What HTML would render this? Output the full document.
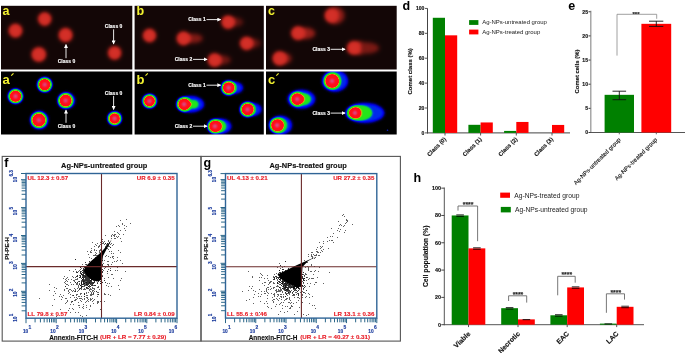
<!DOCTYPE html>
<html><head><meta charset="utf-8"><style>
html,body{margin:0;padding:0;background:#fff;}
#fig{position:relative;width:685px;height:353px;overflow:hidden;background:#fff;}
svg{position:absolute;left:0;top:0;will-change:transform;}
text{font-family:"Liberation Sans",sans-serif;}
</style></head><body><div id="fig">
<svg width="685" height="353" viewBox="0 0 685 353" font-family="Liberation Sans">
<defs>
<filter id="bl2" x="-50%" y="-50%" width="200%" height="200%"><feGaussianBlur stdDeviation="1.6"/></filter>
<filter id="bl1" x="-50%" y="-50%" width="200%" height="200%"><feGaussianBlur stdDeviation="0.7"/></filter>
<filter id="bl3" x="-50%" y="-50%" width="200%" height="200%"><feGaussianBlur stdDeviation="2.6"/></filter>
<filter id="bl05" x="-50%" y="-50%" width="200%" height="200%"><feGaussianBlur stdDeviation="0.45"/></filter>
<radialGradient id="rc"><stop offset="0" stop-color="#e02a22"/><stop offset="0.45" stop-color="#d82620"/><stop offset="0.72" stop-color="#b01c18" stop-opacity="0.8"/><stop offset="1" stop-color="#401010" stop-opacity="0"/></radialGradient>
<radialGradient id="hm"><stop offset="0" stop-color="#c070a0"/><stop offset="0.2" stop-color="#d84a80"/><stop offset="0.36" stop-color="#ff1a1a"/><stop offset="0.6" stop-color="#ff1010"/><stop offset="0.68" stop-color="#f0a010"/><stop offset="0.74" stop-color="#40e030"/><stop offset="0.82" stop-color="#20d020"/><stop offset="0.88" stop-color="#1040ff"/><stop offset="0.95" stop-color="#0010e0" stop-opacity="0.85"/><stop offset="1" stop-color="#000060" stop-opacity="0"/></radialGradient>
<radialGradient id="rt"><stop offset="0" stop-color="#c02822" stop-opacity="0.9"/><stop offset="0.5" stop-color="#a82420" stop-opacity="0.6"/><stop offset="1" stop-color="#501010" stop-opacity="0"/></radialGradient>
<radialGradient id="btg"><stop offset="0" stop-color="#1a30ff"/><stop offset="0.6" stop-color="#0a1ae8"/><stop offset="0.85" stop-color="#0510b0" stop-opacity="0.7"/><stop offset="1" stop-color="#000080" stop-opacity="0"/></radialGradient>
<radialGradient id="gtg"><stop offset="0" stop-color="#30e030"/><stop offset="0.7" stop-color="#28d828"/><stop offset="1" stop-color="#20c040" stop-opacity="0.2"/></radialGradient>
<radialGradient id="pk"><stop offset="0" stop-color="#d07090"/><stop offset="0.6" stop-color="#e04050" stop-opacity="0.6"/><stop offset="1" stop-color="#ff1010" stop-opacity="0"/></radialGradient>
<marker id="ah" viewBox="0 0 6 6" refX="5" refY="3" markerWidth="4.8" markerHeight="4.4" orient="auto"><path d="M0,0 L6,3 L0,6 z" fill="#fff"/></marker>
<filter id="heat" x="0" y="0" width="1" height="1" filterUnits="objectBoundingBox" color-interpolation-filters="sRGB"><feGaussianBlur in="SourceGraphic" stdDeviation="1.5" result="b"/><feFlood flood-color="#000" result="k"/><feComposite in="b" in2="k" operator="over" result="c"/><feComponentTransfer in="c"><feFuncR type="table" tableValues="0.00 0.00 0.00 0.00 0.00 0.02 0.08 0.12 0.14 0.15 0.50 0.95 1.00 1.00 1.00 1.00 1.00 1.00 0.95 0.85 0.78"/><feFuncG type="table" tableValues="0.00 0.00 0.00 0.03 0.25 0.65 0.85 0.90 0.90 0.90 0.85 0.55 0.12 0.06 0.06 0.06 0.06 0.07 0.15 0.30 0.40"/><feFuncB type="table" tableValues="0.00 0.30 0.72 0.95 0.90 0.50 0.20 0.12 0.10 0.10 0.06 0.05 0.07 0.10 0.10 0.10 0.10 0.12 0.30 0.50 0.62"/></feComponentTransfer></filter>
<filter id="redmap" x="0" y="0" width="1" height="1" filterUnits="objectBoundingBox" color-interpolation-filters="sRGB"><feGaussianBlur in="SourceGraphic" stdDeviation="2.2" result="b"/><feFlood flood-color="#000" result="k"/><feComposite in="b" in2="k" operator="over" result="c"/><feComponentTransfer in="c"><feFuncR type="table" tableValues="0.075 0.160 0.260 0.370 0.480 0.580 0.670 0.740 0.790 0.820 0.830"/><feFuncG type="table" tableValues="0.027 0.040 0.060 0.080 0.100 0.120 0.140 0.160 0.170 0.180 0.190"/><feFuncB type="table" tableValues="0.027 0.035 0.050 0.065 0.080 0.100 0.120 0.130 0.140 0.150 0.160"/></feComponentTransfer></filter>
</defs>
<rect x="1.00" y="5.80" width="131.30" height="63.70" fill="#140707"/>
<rect x="1.00" y="71.50" width="131.30" height="63.00" fill="#000"/>
<rect x="134.60" y="5.80" width="129.30" height="63.70" fill="#140707"/>
<rect x="134.60" y="71.50" width="129.30" height="63.00" fill="#000"/>
<rect x="266.00" y="5.80" width="130.70" height="63.70" fill="#140707"/>
<rect x="266.00" y="71.50" width="130.70" height="63.00" fill="#000"/>
<g filter="url(#redmap)">
<rect x="1.00" y="5.80" width="131.30" height="63.70" fill="#000"/>
<circle cx="44.70" cy="19.00" r="6.40" fill="#fff"/>
<circle cx="15.50" cy="30.60" r="6.60" fill="#fff"/>
<circle cx="65.60" cy="35.00" r="6.70" fill="#fff"/>
<circle cx="38.80" cy="54.50" r="7.00" fill="#fff"/>
<circle cx="114.60" cy="52.90" r="6.40" fill="#fff"/>
</g>
<g filter="url(#redmap)">
<rect x="134.60" y="5.80" width="129.30" height="63.70" fill="#000"/>
<ellipse cx="234.60" cy="22.10" rx="9.00" ry="5.00" fill="rgb(76,76,76)"/>
<ellipse cx="193.00" cy="38.40" rx="10.00" ry="5.00" fill="rgb(107,107,107)"/>
<ellipse cx="253.10" cy="43.30" rx="8.00" ry="5.00" fill="rgb(76,76,76)"/>
<ellipse cx="222.10" cy="60.00" rx="9.00" ry="5.00" fill="rgb(89,89,89)"/>
<circle cx="228.10" cy="22.10" r="6.40" fill="#fff"/>
<circle cx="149.50" cy="35.50" r="6.40" fill="#fff"/>
<circle cx="183.50" cy="38.40" r="6.60" fill="#fff"/>
<circle cx="246.60" cy="43.30" r="6.40" fill="#fff"/>
<circle cx="214.60" cy="60.00" r="6.60" fill="#fff"/>
</g>
<g filter="url(#redmap)">
<rect x="266.00" y="5.80" width="130.70" height="63.70" fill="#000"/>
<ellipse cx="335.00" cy="15.50" rx="10.00" ry="9.00" fill="rgb(115,115,115)"/>
<ellipse cx="305.50" cy="33.20" rx="10.00" ry="6.00" fill="rgb(128,128,128)"/>
<ellipse cx="359.30" cy="47.90" rx="9.00" ry="6.50" fill="rgb(217,217,217)"/>
<ellipse cx="366.30" cy="47.90" rx="13.00" ry="6.00" fill="rgb(102,102,102)"/>
<ellipse cx="284.10" cy="58.40" rx="8.00" ry="6.00" fill="rgb(102,102,102)"/>
<circle cx="331.50" cy="15.50" r="6.60" fill="#fff"/>
<circle cx="298.00" cy="33.20" r="6.60" fill="#fff"/>
<circle cx="353.80" cy="47.90" r="6.60" fill="#fff"/>
<circle cx="279.60" cy="58.40" r="6.80" fill="#fff"/>
</g>
<g filter="url(#heat)">
<rect x="1.00" y="71.50" width="131.30" height="63.00" fill="#000"/>
<ellipse cx="66.40" cy="100.60" rx="8.60" ry="8.00" fill="rgb(46,46,46)"/>
<ellipse cx="39.30" cy="120.10" rx="9.00" ry="9.00" fill="rgb(46,46,46)"/>
<circle cx="44.70" cy="84.60" r="6.40" fill="rgb(212,212,212)"/>
<circle cx="44.70" cy="84.60" r="2.2" fill="#fff"/>
<circle cx="15.50" cy="96.20" r="6.40" fill="rgb(212,212,212)"/>
<circle cx="15.50" cy="96.20" r="2.2" fill="#fff"/>
<circle cx="65.60" cy="100.60" r="6.50" fill="rgb(212,212,212)"/>
<circle cx="65.60" cy="100.60" r="2.2" fill="#fff"/>
<circle cx="38.80" cy="120.10" r="7.00" fill="rgb(212,212,212)"/>
<circle cx="38.80" cy="120.10" r="2.2" fill="#fff"/>
<circle cx="114.60" cy="118.50" r="6.00" fill="rgb(212,212,212)"/>
<circle cx="114.60" cy="118.50" r="2.2" fill="#fff"/>
</g>
<g filter="url(#heat)">
<rect x="134.60" y="71.50" width="129.30" height="63.00" fill="#000"/>
<ellipse cx="234.10" cy="87.80" rx="9.00" ry="6.00" fill="rgb(46,46,46)"/>
<ellipse cx="190.60" cy="104.30" rx="13.50" ry="8.20" fill="rgb(46,46,46)"/>
<ellipse cx="252.50" cy="109.40" rx="9.00" ry="6.50" fill="rgb(46,46,46)"/>
<ellipse cx="220.90" cy="126.30" rx="10.50" ry="7.50" fill="rgb(46,46,46)"/>
<ellipse cx="193.10" cy="104.30" rx="4.50" ry="3.20" fill="rgb(112,112,112)"/>
<ellipse cx="217.40" cy="126.30" rx="8.00" ry="6.00" fill="rgb(112,112,112)"/>
<circle cx="228.60" cy="87.80" r="6.40" fill="rgb(212,212,212)"/>
<circle cx="228.60" cy="87.80" r="2.2" fill="#fff"/>
<circle cx="149.50" cy="101.10" r="6.20" fill="rgb(212,212,212)"/>
<circle cx="149.50" cy="101.10" r="2.2" fill="#fff"/>
<circle cx="184.10" cy="104.30" r="6.40" fill="rgb(212,212,212)"/>
<circle cx="184.10" cy="104.30" r="2.2" fill="#fff"/>
<circle cx="247.50" cy="109.40" r="6.60" fill="rgb(212,212,212)"/>
<circle cx="247.50" cy="109.40" r="2.2" fill="#fff"/>
<circle cx="214.90" cy="126.30" r="6.40" fill="rgb(212,212,212)"/>
<circle cx="214.90" cy="126.30" r="2.2" fill="#fff"/>
</g>
<g filter="url(#heat)">
<rect x="266.00" y="71.50" width="130.70" height="63.00" fill="#000"/>
<ellipse cx="335.00" cy="81.00" rx="13.00" ry="10.50" fill="rgb(46,46,46)"/>
<ellipse cx="301.40" cy="99.10" rx="13.80" ry="9.40" fill="rgb(46,46,46)"/>
<ellipse cx="364.90" cy="112.90" rx="19.40" ry="9.80" fill="rgb(46,46,46)"/>
<ellipse cx="280.60" cy="125.20" rx="11.30" ry="9.50" fill="rgb(46,46,46)"/>
<ellipse cx="332.50" cy="81.00" rx="7.80" ry="7.80" fill="rgb(112,112,112)"/>
<ellipse cx="302.70" cy="99.10" rx="7.50" ry="5.20" fill="rgb(112,112,112)"/>
<ellipse cx="359.40" cy="112.90" rx="12.00" ry="7.00" fill="rgb(112,112,112)"/>
<ellipse cx="278.50" cy="125.20" rx="7.80" ry="7.00" fill="rgb(112,112,112)"/>
<circle cx="332.00" cy="81.00" r="7.00" fill="rgb(212,212,212)"/>
<circle cx="332.00" cy="81.00" r="2.2" fill="#fff"/>
<circle cx="297.20" cy="99.10" r="6.30" fill="rgb(212,212,212)"/>
<circle cx="297.20" cy="99.10" r="2.2" fill="#fff"/>
<circle cx="354.90" cy="112.90" r="5.80" fill="rgb(212,212,212)"/>
<circle cx="354.90" cy="112.90" r="2.2" fill="#fff"/>
<circle cx="277.10" cy="125.20" r="6.30" fill="rgb(212,212,212)"/>
<circle cx="277.10" cy="125.20" r="2.2" fill="#fff"/>
</g>
<circle cx="387.5" cy="130.2" r="0.8" fill="#1020c0"/>
<rect x="132.30" y="0.00" width="2.30" height="140.00" fill="#fff"/>
<rect x="263.80" y="0.00" width="2.20" height="140.00" fill="#fff"/>
<rect x="0.00" y="69.50" width="400.00" height="2.00" fill="#fff"/>
<rect x="0.00" y="0.00" width="400.00" height="5.80" fill="#fff"/>
<rect x="0.00" y="134.50" width="400.00" height="6.00" fill="#fff"/>
<rect x="396.70" y="0.00" width="4.00" height="140.00" fill="#fff"/>
<text x="2.60" y="15.10" font-size="12.5" fill="#f2f230" font-weight="bold">a</text>
<text x="2.60" y="83.50" font-size="13" fill="#f2f230" font-weight="bold">a</text>
<line x1="11.20" y1="75.70" x2="13.50" y2="73.30" stroke="#f2f230" stroke-width="1.1"/>
<text x="136.50" y="15.10" font-size="12.5" fill="#f2f230" font-weight="bold">b</text>
<text x="136.50" y="83.50" font-size="13" fill="#f2f230" font-weight="bold">b</text>
<line x1="145.50" y1="75.70" x2="147.80" y2="73.30" stroke="#f2f230" stroke-width="1.1"/>
<text x="268.00" y="15.10" font-size="12.5" fill="#f2f230" font-weight="bold">c</text>
<text x="268.00" y="83.50" font-size="13" fill="#f2f230" font-weight="bold">c</text>
<line x1="276.30" y1="75.70" x2="278.60" y2="73.30" stroke="#f2f230" stroke-width="1.1"/>
<text x="66.50" y="63.10" font-size="5" fill="#fff" font-weight="bold" text-anchor="middle" stroke="#fff" stroke-width="0.14">Class 0</text>
<line x1="66.00" y1="58.20" x2="66.00" y2="44.60" stroke="#fff" stroke-width="0.9" marker-end="url(#ah)"/>
<text x="113.60" y="27.90" font-size="5" fill="#fff" font-weight="bold" text-anchor="middle" stroke="#fff" stroke-width="0.14">Class 0</text>
<line x1="113.60" y1="29.30" x2="113.60" y2="43.80" stroke="#fff" stroke-width="0.9" marker-end="url(#ah)"/>
<text x="205.80" y="21.40" font-size="5" fill="#fff" font-weight="bold" text-anchor="end" stroke="#fff" stroke-width="0.14">Class 1</text>
<line x1="206.50" y1="19.60" x2="220.60" y2="19.60" stroke="#fff" stroke-width="0.9" marker-end="url(#ah)"/>
<text x="192.20" y="61.20" font-size="5" fill="#fff" font-weight="bold" text-anchor="end" stroke="#fff" stroke-width="0.14">Class 2</text>
<line x1="193.00" y1="59.40" x2="207.00" y2="59.40" stroke="#fff" stroke-width="0.9" marker-end="url(#ah)"/>
<text x="330.00" y="51.10" font-size="5" fill="#fff" font-weight="bold" text-anchor="end" stroke="#fff" stroke-width="0.14">Class 3</text>
<line x1="330.60" y1="49.30" x2="345.00" y2="49.30" stroke="#fff" stroke-width="0.9" marker-end="url(#ah)"/>
<text x="66.50" y="127.50" font-size="5" fill="#fff" font-weight="bold" text-anchor="middle" stroke="#fff" stroke-width="0.14">Class 0</text>
<line x1="66.00" y1="122.80" x2="66.00" y2="110.20" stroke="#fff" stroke-width="0.9" marker-end="url(#ah)"/>
<text x="113.60" y="94.50" font-size="5" fill="#fff" font-weight="bold" text-anchor="middle" stroke="#fff" stroke-width="0.14">Class 0</text>
<line x1="113.60" y1="95.90" x2="113.60" y2="109.40" stroke="#fff" stroke-width="0.9" marker-end="url(#ah)"/>
<text x="205.80" y="87.00" font-size="5" fill="#fff" font-weight="bold" text-anchor="end" stroke="#fff" stroke-width="0.14">Class 1</text>
<line x1="206.50" y1="85.20" x2="220.60" y2="85.20" stroke="#fff" stroke-width="0.9" marker-end="url(#ah)"/>
<text x="192.20" y="128.00" font-size="5" fill="#fff" font-weight="bold" text-anchor="end" stroke="#fff" stroke-width="0.14">Class 2</text>
<line x1="193.00" y1="126.20" x2="207.00" y2="126.20" stroke="#fff" stroke-width="0.9" marker-end="url(#ah)"/>
<text x="330.00" y="114.90" font-size="5" fill="#fff" font-weight="bold" text-anchor="end" stroke="#fff" stroke-width="0.14">Class 3</text>
<line x1="330.60" y1="113.10" x2="345.00" y2="113.10" stroke="#fff" stroke-width="0.9" marker-end="url(#ah)"/>
<text x="402.50" y="10.30" font-size="12.5" fill="#000" font-weight="bold">d</text>
<line x1="427.50" y1="8.40" x2="427.50" y2="133.40" stroke="#444" stroke-width="1"/>
<line x1="427.00" y1="132.90" x2="570.00" y2="132.90" stroke="#444" stroke-width="1"/>
<line x1="425.00" y1="132.90" x2="427.50" y2="132.90" stroke="#444" stroke-width="0.9"/>
<text x="424.40" y="134.70" font-size="5.1" fill="#111" font-weight="bold" text-anchor="end" stroke="#111" stroke-width="0.14">0</text>
<line x1="425.00" y1="108.01" x2="427.50" y2="108.01" stroke="#444" stroke-width="0.9"/>
<text x="424.40" y="109.81" font-size="5.1" fill="#111" font-weight="bold" text-anchor="end" stroke="#111" stroke-width="0.14">20</text>
<line x1="425.00" y1="83.12" x2="427.50" y2="83.12" stroke="#444" stroke-width="0.9"/>
<text x="424.40" y="84.92" font-size="5.1" fill="#111" font-weight="bold" text-anchor="end" stroke="#111" stroke-width="0.14">40</text>
<line x1="425.00" y1="58.23" x2="427.50" y2="58.23" stroke="#444" stroke-width="0.9"/>
<text x="424.40" y="60.03" font-size="5.1" fill="#111" font-weight="bold" text-anchor="end" stroke="#111" stroke-width="0.14">60</text>
<line x1="425.00" y1="33.34" x2="427.50" y2="33.34" stroke="#444" stroke-width="0.9"/>
<text x="424.40" y="35.14" font-size="5.1" fill="#111" font-weight="bold" text-anchor="end" stroke="#111" stroke-width="0.14">80</text>
<line x1="425.00" y1="8.45" x2="427.50" y2="8.45" stroke="#444" stroke-width="0.9"/>
<text x="424.40" y="10.25" font-size="5.1" fill="#111" font-weight="bold" text-anchor="end" stroke="#111" stroke-width="0.14">100</text>
<rect x="432.80" y="17.78" width="12.20" height="115.12" fill="#008000"/>
<rect x="445.00" y="35.33" width="12.20" height="97.57" fill="#ff0000"/>
<line x1="445.00" y1="132.90" x2="445.00" y2="135.50" stroke="#444" stroke-width="0.9"/>
<rect x="468.40" y="124.81" width="12.20" height="8.09" fill="#008000"/>
<rect x="480.60" y="122.45" width="12.20" height="10.45" fill="#ff0000"/>
<line x1="480.60" y1="132.90" x2="480.60" y2="135.50" stroke="#444" stroke-width="0.9"/>
<rect x="504.10" y="130.91" width="12.20" height="1.99" fill="#008000"/>
<rect x="516.30" y="121.95" width="12.20" height="10.95" fill="#ff0000"/>
<line x1="516.30" y1="132.90" x2="516.30" y2="135.50" stroke="#444" stroke-width="0.9"/>
<rect x="552.00" y="124.94" width="12.20" height="7.96" fill="#ff0000"/>
<line x1="552.00" y1="132.90" x2="552.00" y2="135.50" stroke="#444" stroke-width="0.9"/>
<text x="446.50" y="139.60" font-size="5.8" fill="#111" font-weight="bold" text-anchor="end" transform="rotate(-45 446.50 139.60)" stroke="#111" stroke-width="0.14">Class (0)</text>
<text x="482.10" y="139.60" font-size="5.8" fill="#111" font-weight="bold" text-anchor="end" transform="rotate(-45 482.10 139.60)" stroke="#111" stroke-width="0.14">Class (1)</text>
<text x="517.80" y="139.60" font-size="5.8" fill="#111" font-weight="bold" text-anchor="end" transform="rotate(-45 517.80 139.60)" stroke="#111" stroke-width="0.14">Class (2)</text>
<text x="553.50" y="139.60" font-size="5.8" fill="#111" font-weight="bold" text-anchor="end" transform="rotate(-45 553.50 139.60)" stroke="#111" stroke-width="0.14">Class (3)</text>
<text x="412.40" y="71.30" font-size="6.0" fill="#111" font-weight="bold" text-anchor="middle" transform="rotate(-90 412.40 71.30)" stroke="#111" stroke-width="0.14">Comet class (%)</text>
<rect x="469.10" y="20.10" width="9.30" height="4.80" fill="#008000"/>
<rect x="469.10" y="29.60" width="9.30" height="4.80" fill="#ff0000"/>
<text x="482.20" y="24.40" font-size="5.98" fill="#222">Ag-NPs-untreated group</text>
<text x="482.20" y="33.90" font-size="5.98" fill="#222">Ag-NPs-treated group</text>
<text x="568.30" y="10.00" font-size="12.5" fill="#000" font-weight="bold">e</text>
<line x1="590.80" y1="10.80" x2="590.80" y2="132.50" stroke="#999" stroke-width="1.3"/>
<line x1="590.20" y1="132.50" x2="685.50" y2="132.50" stroke="#555" stroke-width="1"/>
<line x1="588.50" y1="132.50" x2="590.50" y2="132.50" stroke="#222" stroke-width="0.9"/>
<text x="588.00" y="134.30" font-size="5.1" fill="#111" font-weight="bold" text-anchor="end" stroke="#111" stroke-width="0.14">0</text>
<line x1="588.50" y1="108.35" x2="590.50" y2="108.35" stroke="#222" stroke-width="0.9"/>
<text x="588.00" y="110.15" font-size="5.1" fill="#111" font-weight="bold" text-anchor="end" stroke="#111" stroke-width="0.14">5</text>
<line x1="588.50" y1="84.20" x2="590.50" y2="84.20" stroke="#222" stroke-width="0.9"/>
<text x="588.00" y="86.00" font-size="5.1" fill="#111" font-weight="bold" text-anchor="end" stroke="#111" stroke-width="0.14">10</text>
<line x1="588.50" y1="60.05" x2="590.50" y2="60.05" stroke="#222" stroke-width="0.9"/>
<text x="588.00" y="61.85" font-size="5.1" fill="#111" font-weight="bold" text-anchor="end" stroke="#111" stroke-width="0.14">15</text>
<line x1="588.50" y1="35.90" x2="590.50" y2="35.90" stroke="#222" stroke-width="0.9"/>
<text x="588.00" y="37.70" font-size="5.1" fill="#111" font-weight="bold" text-anchor="end" stroke="#111" stroke-width="0.14">20</text>
<line x1="588.50" y1="11.75" x2="590.50" y2="11.75" stroke="#222" stroke-width="0.9"/>
<text x="588.00" y="13.55" font-size="5.1" fill="#111" font-weight="bold" text-anchor="end" stroke="#111" stroke-width="0.14">25</text>
<rect x="604.60" y="94.83" width="29.40" height="37.67" fill="#008000"/>
<rect x="641.40" y="23.83" width="29.80" height="108.67" fill="#ff0000"/>
<line x1="619.30" y1="91.20" x2="619.30" y2="99.70" stroke="#111" stroke-width="0.9"/>
<line x1="612.50" y1="91.20" x2="626.10" y2="91.20" stroke="#111" stroke-width="0.9"/>
<line x1="612.50" y1="99.70" x2="626.10" y2="99.70" stroke="#111" stroke-width="0.9"/>
<line x1="656.30" y1="21.20" x2="656.30" y2="26.40" stroke="#111" stroke-width="0.9"/>
<line x1="649.00" y1="21.20" x2="663.30" y2="21.20" stroke="#111" stroke-width="0.9"/>
<line x1="649.00" y1="26.40" x2="663.30" y2="26.40" stroke="#111" stroke-width="0.9"/>
<polyline points="617,55.6 617,14.3 656.7,14.3 656.7,18.8" fill="none" stroke="#888" stroke-width="0.8"/>
<text x="636.00" y="15.60" font-size="5.9" fill="#222" font-weight="bold" text-anchor="middle" stroke="#222" stroke-width="0.14">***</text>
<line x1="619.30" y1="132.50" x2="619.30" y2="134.30" stroke="#555" stroke-width="0.9"/>
<line x1="656.30" y1="132.50" x2="656.30" y2="134.30" stroke="#555" stroke-width="0.9"/>
<text x="621.10" y="140.20" font-size="5.9" fill="#111" text-anchor="end" transform="rotate(-45 621.10 140.20)" stroke="#111" stroke-width="0.12">Ag-NPs-untreated group</text>
<text x="657.60" y="140.20" font-size="5.9" fill="#111" text-anchor="end" transform="rotate(-45 657.60 140.20)" stroke="#111" stroke-width="0.12">Ag-NPs-treated group</text>
<text x="579.30" y="71.50" font-size="5.9" fill="#111" font-weight="bold" text-anchor="middle" transform="rotate(-90 579.30 71.50)" stroke="#111" stroke-width="0.14">Comet cells (%)</text>
<text x="413.40" y="182.40" font-size="12.5" fill="#000" font-weight="bold">h</text>
<line x1="444.30" y1="187.50" x2="444.30" y2="325.20" stroke="#555" stroke-width="1"/>
<line x1="443.80" y1="324.70" x2="644.00" y2="324.70" stroke="#555" stroke-width="1"/>
<line x1="441.30" y1="324.70" x2="444.30" y2="324.70" stroke="#333" stroke-width="0.9"/>
<text x="440.90" y="326.60" font-size="5.4" fill="#111" font-weight="bold" text-anchor="end" stroke="#111" stroke-width="0.14">0</text>
<line x1="441.30" y1="297.39" x2="444.30" y2="297.39" stroke="#333" stroke-width="0.9"/>
<text x="440.90" y="299.29" font-size="5.4" fill="#111" font-weight="bold" text-anchor="end" stroke="#111" stroke-width="0.14">20</text>
<line x1="441.30" y1="270.08" x2="444.30" y2="270.08" stroke="#333" stroke-width="0.9"/>
<text x="440.90" y="271.98" font-size="5.4" fill="#111" font-weight="bold" text-anchor="end" stroke="#111" stroke-width="0.14">40</text>
<line x1="441.30" y1="242.77" x2="444.30" y2="242.77" stroke="#333" stroke-width="0.9"/>
<text x="440.90" y="244.67" font-size="5.4" fill="#111" font-weight="bold" text-anchor="end" stroke="#111" stroke-width="0.14">60</text>
<line x1="441.30" y1="215.46" x2="444.30" y2="215.46" stroke="#333" stroke-width="0.9"/>
<text x="440.90" y="217.36" font-size="5.4" fill="#111" font-weight="bold" text-anchor="end" stroke="#111" stroke-width="0.14">80</text>
<line x1="441.30" y1="188.15" x2="444.30" y2="188.15" stroke="#333" stroke-width="0.9"/>
<text x="440.90" y="190.05" font-size="5.4" fill="#111" font-weight="bold" text-anchor="end" stroke="#111" stroke-width="0.14">100</text>
<rect x="451.70" y="215.46" width="16.80" height="109.24" fill="#008000"/>
<rect x="468.50" y="248.37" width="16.80" height="76.33" fill="#ff0000"/>
<line x1="468.50" y1="324.70" x2="468.50" y2="327.10" stroke="#444" stroke-width="0.9"/>
<line x1="456.30" y1="214.86" x2="463.90" y2="214.86" stroke="#000" stroke-width="0.8"/>
<line x1="456.30" y1="216.36" x2="463.90" y2="216.36" stroke="#000" stroke-width="0.8"/>
<line x1="473.10" y1="247.77" x2="480.70" y2="247.77" stroke="#000" stroke-width="0.8"/>
<line x1="473.10" y1="249.27" x2="480.70" y2="249.27" stroke="#000" stroke-width="0.8"/>
<rect x="501.20" y="308.18" width="16.80" height="16.52" fill="#008000"/>
<rect x="518.00" y="319.37" width="16.80" height="5.33" fill="#ff0000"/>
<line x1="518.00" y1="324.70" x2="518.00" y2="327.10" stroke="#444" stroke-width="0.9"/>
<line x1="505.80" y1="307.58" x2="513.40" y2="307.58" stroke="#000" stroke-width="0.8"/>
<line x1="505.80" y1="309.08" x2="513.40" y2="309.08" stroke="#000" stroke-width="0.8"/>
<line x1="522.60" y1="319.67" x2="530.20" y2="319.67" stroke="#000" stroke-width="0.9"/>
<rect x="550.40" y="315.28" width="16.80" height="9.42" fill="#008000"/>
<rect x="567.20" y="287.42" width="16.80" height="37.28" fill="#ff0000"/>
<line x1="567.20" y1="324.70" x2="567.20" y2="327.10" stroke="#444" stroke-width="0.9"/>
<line x1="555.00" y1="314.68" x2="562.60" y2="314.68" stroke="#000" stroke-width="0.8"/>
<line x1="555.00" y1="316.18" x2="562.60" y2="316.18" stroke="#000" stroke-width="0.8"/>
<line x1="571.80" y1="286.82" x2="579.40" y2="286.82" stroke="#000" stroke-width="0.8"/>
<line x1="571.80" y1="288.32" x2="579.40" y2="288.32" stroke="#000" stroke-width="0.8"/>
<rect x="599.90" y="323.61" width="16.80" height="1.09" fill="#008000"/>
<rect x="616.70" y="306.81" width="16.80" height="17.89" fill="#ff0000"/>
<line x1="616.70" y1="324.70" x2="616.70" y2="327.10" stroke="#444" stroke-width="0.9"/>
<line x1="604.50" y1="323.91" x2="612.10" y2="323.91" stroke="#000" stroke-width="0.9"/>
<line x1="621.30" y1="306.21" x2="628.90" y2="306.21" stroke="#000" stroke-width="0.8"/>
<line x1="621.30" y1="307.71" x2="628.90" y2="307.71" stroke="#000" stroke-width="0.8"/>
<polyline points="458.0,210.6 458.0,206.0 477.6,206.0 477.6,241.2" fill="none" stroke="#606060" stroke-width="0.85"/>
<text x="468.10" y="207.00" font-size="6.8" fill="#222" font-weight="bold" text-anchor="middle" stroke="#222" stroke-width="0.14">****</text>
<polyline points="508.6,301.0 508.6,295.8 526.7,295.8 526.7,302.6" fill="none" stroke="#606060" stroke-width="0.85"/>
<text x="517.95" y="296.80" font-size="6.8" fill="#222" font-weight="bold" text-anchor="middle" stroke="#222" stroke-width="0.14">****</text>
<polyline points="557.7,295.3 557.7,276.3 575.2,276.3 575.2,282.7" fill="none" stroke="#606060" stroke-width="0.85"/>
<text x="566.75" y="277.30" font-size="6.8" fill="#222" font-weight="bold" text-anchor="middle" stroke="#222" stroke-width="0.14">****</text>
<polyline points="606.4,312.8 606.4,293.8 624.5,293.8 624.5,299.6" fill="none" stroke="#606060" stroke-width="0.85"/>
<text x="615.75" y="294.80" font-size="6.8" fill="#222" font-weight="bold" text-anchor="middle" stroke="#222" stroke-width="0.14">****</text>
<text x="470.90" y="334.20" font-size="6.9" fill="#111" font-weight="bold" text-anchor="end" transform="rotate(-45 470.90 334.20)" stroke="#111" stroke-width="0.14">Viable</text>
<text x="520.40" y="334.20" font-size="6.9" fill="#111" font-weight="bold" text-anchor="end" transform="rotate(-45 520.40 334.20)" stroke="#111" stroke-width="0.14">Necrotic</text>
<text x="569.60" y="334.20" font-size="6.9" fill="#111" font-weight="bold" text-anchor="end" transform="rotate(-45 569.60 334.20)" stroke="#111" stroke-width="0.14">EAC</text>
<text x="619.10" y="334.20" font-size="6.9" fill="#111" font-weight="bold" text-anchor="end" transform="rotate(-45 619.10 334.20)" stroke="#111" stroke-width="0.14">LAC</text>
<text x="428.00" y="256.30" font-size="6.8" fill="#111" font-weight="bold" text-anchor="middle" transform="rotate(-90 428.00 256.30)" stroke="#111" stroke-width="0.14">Cell population (%)</text>
<rect x="500.20" y="192.60" width="9.80" height="5.20" fill="#ff0000"/>
<rect x="500.80" y="206.90" width="10.00" height="5.50" fill="#008000"/>
<text x="514.30" y="197.50" font-size="6.7" fill="#222">Ag-NPs-treated group</text>
<text x="515.10" y="212.10" font-size="6.7" fill="#222">Ag-NPs-untreated group</text>
<rect x="2.2" y="156.4" width="198.8" height="184.7" fill="none" stroke="#555" stroke-width="1.1"/>
<rect x="201.0" y="156.4" width="199.4" height="184.7" fill="none" stroke="#555" stroke-width="1.1"/>
<clipPath id="cp11"><rect x="26.0" y="173.5" width="151.0" height="144.7"/></clipPath>
<g clip-path="url(#cp11)">
<path d="M95 275h1v1h-1zM87 279h1v1h-1zM98 270h1v1h-1zM92 272h1v1h-1zM90 273h1v1h-1zM91 282h1v1h-1zM89 277h1v1h-1zM94 274h1v1h-1zM95 270h1v1h-1zM95 278h1v1h-1zM88 281h1v1h-1zM94 277h1v1h-1zM86 275h1v1h-1zM87 275h1v1h-1zM87 275h1v1h-1zM91 280h1v1h-1zM95 270h1v1h-1zM85 270h1v1h-1zM86 283h1v1h-1zM96 272h1v1h-1zM87 276h1v1h-1zM97 271h1v1h-1zM91 279h1v1h-1zM91 270h1v1h-1zM97 267h1v1h-1zM85 277h1v1h-1zM87 274h1v1h-1zM102 269h1v1h-1zM87 280h1v1h-1zM102 272h1v1h-1zM91 275h1v1h-1zM83 273h1v1h-1zM90 276h1v1h-1zM94 276h1v1h-1zM83 279h1v1h-1zM97 271h1v1h-1zM88 276h1v1h-1zM96 276h1v1h-1zM88 268h1v1h-1zM99 277h1v1h-1zM86 277h1v1h-1zM94 274h1v1h-1zM92 273h1v1h-1zM91 282h1v1h-1zM92 272h1v1h-1zM99 265h1v1h-1zM88 271h1v1h-1zM83 269h1v1h-1zM88 277h1v1h-1zM100 269h1v1h-1zM93 279h1v1h-1zM93 282h1v1h-1zM89 277h1v1h-1zM89 268h1v1h-1zM91 266h1v1h-1zM84 275h1v1h-1zM94 274h1v1h-1zM85 267h1v1h-1zM87 281h1v1h-1zM92 271h1v1h-1zM85 267h1v1h-1zM96 271h1v1h-1zM96 263h1v1h-1zM94 282h1v1h-1zM90 272h1v1h-1zM90 276h1v1h-1zM90 283h1v1h-1zM99 273h1v1h-1zM95 270h1v1h-1zM87 269h1v1h-1zM92 276h1v1h-1zM87 271h1v1h-1zM87 284h1v1h-1zM87 288h1v1h-1zM86 275h1v1h-1zM91 271h1v1h-1zM88 279h1v1h-1zM89 277h1v1h-1zM91 277h1v1h-1zM90 283h1v1h-1zM90 281h1v1h-1zM86 273h1v1h-1zM89 277h1v1h-1zM91 276h1v1h-1zM92 272h1v1h-1zM88 279h1v1h-1zM88 280h1v1h-1zM89 277h1v1h-1zM87 274h1v1h-1zM93 270h1v1h-1zM94 276h1v1h-1zM96 264h1v1h-1zM94 267h1v1h-1zM89 276h1v1h-1zM86 277h1v1h-1zM95 274h1v1h-1zM90 270h1v1h-1zM90 274h1v1h-1zM97 272h1v1h-1zM79 281h1v1h-1zM99 278h1v1h-1zM93 272h1v1h-1zM86 273h1v1h-1zM91 272h1v1h-1zM89 271h1v1h-1zM85 274h1v1h-1zM87 278h1v1h-1zM86 269h1v1h-1zM79 277h1v1h-1zM90 277h1v1h-1zM86 264h1v1h-1zM90 280h1v1h-1zM100 274h1v1h-1zM86 284h1v1h-1zM80 285h1v1h-1zM92 276h1v1h-1zM87 273h1v1h-1zM95 271h1v1h-1zM93 277h1v1h-1zM87 283h1v1h-1zM90 281h1v1h-1zM90 270h1v1h-1zM94 275h1v1h-1zM95 278h1v1h-1zM85 269h1v1h-1zM98 266h1v1h-1zM94 278h1v1h-1zM99 269h1v1h-1zM88 277h1v1h-1zM93 274h1v1h-1zM94 268h1v1h-1zM83 283h1v1h-1zM88 271h1v1h-1zM96 279h1v1h-1zM89 273h1v1h-1zM92 275h1v1h-1zM86 279h1v1h-1zM91 266h1v1h-1zM90 286h1v1h-1zM99 278h1v1h-1zM92 273h1v1h-1zM95 273h1v1h-1zM101 272h1v1h-1zM92 282h1v1h-1zM97 271h1v1h-1zM81 274h1v1h-1zM87 280h1v1h-1zM98 272h1v1h-1zM91 280h1v1h-1zM96 291h1v1h-1zM100 281h1v1h-1zM95 278h1v1h-1zM86 276h1v1h-1zM91 269h1v1h-1zM95 285h1v1h-1zM85 279h1v1h-1zM92 284h1v1h-1zM93 273h1v1h-1zM94 269h1v1h-1zM86 278h1v1h-1zM95 276h1v1h-1zM94 279h1v1h-1zM95 272h1v1h-1zM85 276h1v1h-1zM89 267h1v1h-1zM87 274h1v1h-1zM86 273h1v1h-1zM91 274h1v1h-1zM86 279h1v1h-1zM84 275h1v1h-1zM104 280h1v1h-1zM93 276h1v1h-1zM96 271h1v1h-1zM88 274h1v1h-1zM87 274h1v1h-1zM91 280h1v1h-1zM94 268h1v1h-1zM92 273h1v1h-1zM93 279h1v1h-1zM94 285h1v1h-1zM92 272h1v1h-1zM83 276h1v1h-1zM83 278h1v1h-1zM89 270h1v1h-1zM83 278h1v1h-1zM90 278h1v1h-1zM84 285h1v1h-1zM92 273h1v1h-1zM88 269h1v1h-1zM86 267h1v1h-1zM90 271h1v1h-1zM93 273h1v1h-1zM90 277h1v1h-1zM82 275h1v1h-1zM89 270h1v1h-1zM83 276h1v1h-1zM92 278h1v1h-1zM96 267h1v1h-1zM79 277h1v1h-1zM94 277h1v1h-1zM94 274h1v1h-1zM83 281h1v1h-1zM86 284h1v1h-1zM101 270h1v1h-1zM83 272h1v1h-1zM90 274h1v1h-1zM89 278h1v1h-1zM86 271h1v1h-1zM89 270h1v1h-1zM84 276h1v1h-1zM95 265h1v1h-1zM89 279h1v1h-1zM89 271h1v1h-1zM83 282h1v1h-1zM91 275h1v1h-1zM80 272h1v1h-1zM87 271h1v1h-1zM87 274h1v1h-1zM84 270h1v1h-1zM96 272h1v1h-1zM88 276h1v1h-1zM97 266h1v1h-1zM86 280h1v1h-1zM88 273h1v1h-1zM86 273h1v1h-1zM93 276h1v1h-1zM93 277h1v1h-1zM94 276h1v1h-1zM97 271h1v1h-1zM94 275h1v1h-1zM81 282h1v1h-1zM98 276h1v1h-1zM101 279h1v1h-1zM89 274h1v1h-1zM93 274h1v1h-1zM79 284h1v1h-1zM82 270h1v1h-1zM89 261h1v1h-1zM96 279h1v1h-1zM95 270h1v1h-1zM90 275h1v1h-1zM90 266h1v1h-1zM97 275h1v1h-1zM90 270h1v1h-1zM97 277h1v1h-1zM83 273h1v1h-1zM97 278h1v1h-1zM93 279h1v1h-1zM94 273h1v1h-1zM93 269h1v1h-1zM92 273h1v1h-1zM85 282h1v1h-1zM89 272h1v1h-1zM91 275h1v1h-1zM85 273h1v1h-1zM99 273h1v1h-1zM86 280h1v1h-1zM91 276h1v1h-1zM94 273h1v1h-1zM88 268h1v1h-1zM84 283h1v1h-1zM88 273h1v1h-1zM91 268h1v1h-1zM86 268h1v1h-1zM88 282h1v1h-1zM90 283h1v1h-1zM85 269h1v1h-1zM94 276h1v1h-1zM85 277h1v1h-1zM92 272h1v1h-1zM87 267h1v1h-1zM80 277h1v1h-1zM94 276h1v1h-1zM88 273h1v1h-1zM96 270h1v1h-1zM95 279h1v1h-1zM94 270h1v1h-1zM91 271h1v1h-1zM91 279h1v1h-1zM96 275h1v1h-1zM98 268h1v1h-1zM96 275h1v1h-1zM90 270h1v1h-1zM80 271h1v1h-1zM83 266h1v1h-1zM97 267h1v1h-1zM88 280h1v1h-1zM87 280h1v1h-1zM83 272h1v1h-1zM95 268h1v1h-1zM94 277h1v1h-1zM86 280h1v1h-1zM89 276h1v1h-1zM89 270h1v1h-1zM80 272h1v1h-1zM83 278h1v1h-1zM102 265h1v1h-1zM94 273h1v1h-1zM90 278h1v1h-1zM95 276h1v1h-1zM86 284h1v1h-1zM84 281h1v1h-1zM86 282h1v1h-1zM93 274h1v1h-1zM92 274h1v1h-1zM94 279h1v1h-1zM86 274h1v1h-1zM83 269h1v1h-1zM92 285h1v1h-1zM84 273h1v1h-1zM99 278h1v1h-1zM91 269h1v1h-1zM91 266h1v1h-1zM91 276h1v1h-1zM81 284h1v1h-1zM91 270h1v1h-1zM83 268h1v1h-1zM88 276h1v1h-1zM88 276h1v1h-1zM88 278h1v1h-1zM99 275h1v1h-1zM86 275h1v1h-1zM80 272h1v1h-1zM95 269h1v1h-1zM96 272h1v1h-1zM82 279h1v1h-1zM85 271h1v1h-1zM91 268h1v1h-1zM90 277h1v1h-1zM94 270h1v1h-1zM87 271h1v1h-1zM94 268h1v1h-1zM99 275h1v1h-1zM91 269h1v1h-1zM82 280h1v1h-1zM93 266h1v1h-1zM99 263h1v1h-1zM87 276h1v1h-1zM89 278h1v1h-1zM95 278h1v1h-1zM89 272h1v1h-1zM92 279h1v1h-1zM88 269h1v1h-1zM86 274h1v1h-1zM88 267h1v1h-1zM93 283h1v1h-1zM96 270h1v1h-1zM91 281h1v1h-1zM86 275h1v1h-1zM90 267h1v1h-1zM84 277h1v1h-1zM97 277h1v1h-1zM98 274h1v1h-1zM96 267h1v1h-1zM87 271h1v1h-1zM95 277h1v1h-1zM83 275h1v1h-1zM89 281h1v1h-1zM86 266h1v1h-1zM82 277h1v1h-1zM87 273h1v1h-1zM93 270h1v1h-1zM102 282h1v1h-1zM91 271h1v1h-1zM88 280h1v1h-1zM90 278h1v1h-1zM91 270h1v1h-1zM79 289h1v1h-1zM86 275h1v1h-1zM87 276h1v1h-1zM90 267h1v1h-1zM91 269h1v1h-1zM92 272h1v1h-1zM98 268h1v1h-1zM91 277h1v1h-1zM91 275h1v1h-1zM80 288h1v1h-1zM94 280h1v1h-1zM98 268h1v1h-1zM82 266h1v1h-1zM96 279h1v1h-1zM89 274h1v1h-1zM87 272h1v1h-1zM83 271h1v1h-1zM91 279h1v1h-1zM94 274h1v1h-1zM87 281h1v1h-1zM91 272h1v1h-1zM88 276h1v1h-1zM91 270h1v1h-1zM89 276h1v1h-1zM87 275h1v1h-1zM93 265h1v1h-1zM97 263h1v1h-1zM86 279h1v1h-1zM83 275h1v1h-1zM92 268h1v1h-1zM94 274h1v1h-1zM99 273h1v1h-1zM91 267h1v1h-1zM88 264h1v1h-1zM87 274h1v1h-1zM90 270h1v1h-1zM84 276h1v1h-1zM92 278h1v1h-1zM94 281h1v1h-1zM90 278h1v1h-1zM94 279h1v1h-1zM91 279h1v1h-1zM87 275h1v1h-1zM94 274h1v1h-1zM98 266h1v1h-1zM90 277h1v1h-1zM83 268h1v1h-1zM98 274h1v1h-1zM91 272h1v1h-1zM94 273h1v1h-1zM91 276h1v1h-1zM94 277h1v1h-1zM90 280h1v1h-1zM86 278h1v1h-1zM85 277h1v1h-1zM91 278h1v1h-1zM87 270h1v1h-1zM86 276h1v1h-1zM92 279h1v1h-1zM92 274h1v1h-1zM90 277h1v1h-1zM86 269h1v1h-1zM91 271h1v1h-1zM92 273h1v1h-1zM95 269h1v1h-1zM82 284h1v1h-1zM92 273h1v1h-1zM84 272h1v1h-1zM99 273h1v1h-1zM95 272h1v1h-1zM93 293h1v1h-1zM94 265h1v1h-1zM84 269h1v1h-1zM94 275h1v1h-1zM92 269h1v1h-1zM94 268h1v1h-1zM91 270h1v1h-1zM91 269h1v1h-1zM101 266h1v1h-1zM94 269h1v1h-1zM89 276h1v1h-1zM91 267h1v1h-1zM77 272h1v1h-1zM93 266h1v1h-1zM85 275h1v1h-1zM85 279h1v1h-1zM91 277h1v1h-1zM97 274h1v1h-1zM94 270h1v1h-1zM88 281h1v1h-1zM96 273h1v1h-1zM90 275h1v1h-1zM94 280h1v1h-1zM89 285h1v1h-1zM88 265h1v1h-1zM88 281h1v1h-1zM88 270h1v1h-1zM87 276h1v1h-1zM84 271h1v1h-1zM90 278h1v1h-1zM102 264h1v1h-1zM88 272h1v1h-1zM87 272h1v1h-1zM92 278h1v1h-1zM91 272h1v1h-1zM85 279h1v1h-1zM84 275h1v1h-1zM92 275h1v1h-1zM98 265h1v1h-1zM92 267h1v1h-1zM95 271h1v1h-1zM95 271h1v1h-1zM90 275h1v1h-1zM97 268h1v1h-1zM91 282h1v1h-1zM91 280h1v1h-1zM87 283h1v1h-1zM94 280h1v1h-1zM80 275h1v1h-1zM81 287h1v1h-1zM93 273h1v1h-1zM85 276h1v1h-1zM89 285h1v1h-1zM89 275h1v1h-1zM77 276h1v1h-1zM88 277h1v1h-1zM95 278h1v1h-1zM93 277h1v1h-1zM82 272h1v1h-1zM92 282h1v1h-1zM90 268h1v1h-1zM93 275h1v1h-1zM95 276h1v1h-1zM92 277h1v1h-1zM91 267h1v1h-1zM90 282h1v1h-1zM89 272h1v1h-1zM90 275h1v1h-1zM90 276h1v1h-1zM90 273h1v1h-1zM91 265h1v1h-1zM86 278h1v1h-1zM88 272h1v1h-1zM86 279h1v1h-1zM97 274h1v1h-1zM96 269h1v1h-1zM86 270h1v1h-1zM87 280h1v1h-1zM93 278h1v1h-1zM89 277h1v1h-1zM88 275h1v1h-1zM86 279h1v1h-1zM94 276h1v1h-1zM85 268h1v1h-1zM90 284h1v1h-1zM94 275h1v1h-1zM87 276h1v1h-1zM96 264h1v1h-1zM102 266h1v1h-1zM94 282h1v1h-1zM85 280h1v1h-1zM89 283h1v1h-1zM88 286h1v1h-1zM84 273h1v1h-1zM86 279h1v1h-1zM87 281h1v1h-1zM89 277h1v1h-1zM89 282h1v1h-1zM92 275h1v1h-1zM90 270h1v1h-1zM81 283h1v1h-1zM94 268h1v1h-1zM91 276h1v1h-1zM88 274h1v1h-1zM84 276h1v1h-1zM95 271h1v1h-1zM90 266h1v1h-1zM89 275h1v1h-1zM89 276h1v1h-1zM95 270h1v1h-1zM95 266h1v1h-1zM87 275h1v1h-1zM87 272h1v1h-1zM92 276h1v1h-1zM91 277h1v1h-1zM89 281h1v1h-1zM86 287h1v1h-1zM83 280h1v1h-1zM94 280h1v1h-1zM88 271h1v1h-1zM93 275h1v1h-1zM91 273h1v1h-1zM91 273h1v1h-1zM93 270h1v1h-1zM99 271h1v1h-1zM87 284h1v1h-1zM87 278h1v1h-1zM85 279h1v1h-1zM84 275h1v1h-1zM91 273h1v1h-1zM90 274h1v1h-1zM88 270h1v1h-1zM100 283h1v1h-1zM95 276h1v1h-1zM86 269h1v1h-1zM94 273h1v1h-1zM88 276h1v1h-1zM94 276h1v1h-1zM88 277h1v1h-1zM87 274h1v1h-1zM87 282h1v1h-1zM77 275h1v1h-1zM95 273h1v1h-1zM88 279h1v1h-1zM96 272h1v1h-1zM76 272h1v1h-1zM84 281h1v1h-1zM87 275h1v1h-1zM92 275h1v1h-1zM81 286h1v1h-1zM91 272h1v1h-1zM97 278h1v1h-1zM96 266h1v1h-1zM90 277h1v1h-1zM89 275h1v1h-1zM85 280h1v1h-1zM85 262h1v1h-1zM100 277h1v1h-1zM81 278h1v1h-1zM89 270h1v1h-1zM92 284h1v1h-1zM105 282h1v1h-1zM81 273h1v1h-1zM91 279h1v1h-1zM95 274h1v1h-1zM91 271h1v1h-1zM94 268h1v1h-1zM87 281h1v1h-1zM91 269h1v1h-1zM97 273h1v1h-1zM94 271h1v1h-1zM91 274h1v1h-1zM93 277h1v1h-1zM90 271h1v1h-1zM90 272h1v1h-1zM98 280h1v1h-1zM89 276h1v1h-1zM88 279h1v1h-1zM91 285h1v1h-1zM82 279h1v1h-1zM96 274h1v1h-1zM93 274h1v1h-1zM82 279h1v1h-1zM89 277h1v1h-1zM96 275h1v1h-1zM89 275h1v1h-1zM83 277h1v1h-1zM83 270h1v1h-1zM91 283h1v1h-1zM88 272h1v1h-1zM94 281h1v1h-1zM84 280h1v1h-1zM89 277h1v1h-1zM98 281h1v1h-1zM90 270h1v1h-1zM88 270h1v1h-1zM85 273h1v1h-1zM87 277h1v1h-1zM95 276h1v1h-1zM93 265h1v1h-1zM90 280h1v1h-1zM97 283h1v1h-1zM97 279h1v1h-1zM102 260h1v1h-1zM84 277h1v1h-1zM86 268h1v1h-1zM87 275h1v1h-1zM93 274h1v1h-1zM90 272h1v1h-1zM93 276h1v1h-1zM89 272h1v1h-1zM88 278h1v1h-1zM91 279h1v1h-1zM94 281h1v1h-1zM86 271h1v1h-1zM95 273h1v1h-1zM91 283h1v1h-1zM86 275h1v1h-1zM93 278h1v1h-1zM93 276h1v1h-1zM92 267h1v1h-1zM87 274h1v1h-1zM95 277h1v1h-1zM94 276h1v1h-1zM88 275h1v1h-1zM93 276h1v1h-1zM85 278h1v1h-1zM77 282h1v1h-1zM83 284h1v1h-1zM91 277h1v1h-1zM92 274h1v1h-1zM94 279h1v1h-1zM90 273h1v1h-1zM90 270h1v1h-1zM81 281h1v1h-1zM88 283h1v1h-1zM87 273h1v1h-1zM91 279h1v1h-1zM99 270h1v1h-1zM91 274h1v1h-1zM90 275h1v1h-1zM90 273h1v1h-1zM93 269h1v1h-1zM92 269h1v1h-1zM94 280h1v1h-1zM99 271h1v1h-1zM91 281h1v1h-1zM92 282h1v1h-1zM88 272h1v1h-1zM95 269h1v1h-1zM85 272h1v1h-1zM91 276h1v1h-1zM86 268h1v1h-1zM99 267h1v1h-1zM97 268h1v1h-1zM88 276h1v1h-1zM96 272h1v1h-1zM91 274h1v1h-1zM93 271h1v1h-1zM92 270h1v1h-1zM87 272h1v1h-1zM88 282h1v1h-1zM101 260h1v1h-1zM80 267h1v1h-1zM102 276h1v1h-1zM90 270h1v1h-1zM90 276h1v1h-1zM90 270h1v1h-1zM95 270h1v1h-1zM100 273h1v1h-1zM91 283h1v1h-1zM95 269h1v1h-1zM93 270h1v1h-1zM85 274h1v1h-1zM98 281h1v1h-1zM90 269h1v1h-1zM92 270h1v1h-1zM88 284h1v1h-1zM97 261h1v1h-1zM87 273h1v1h-1zM91 280h1v1h-1zM91 275h1v1h-1zM87 279h1v1h-1zM90 274h1v1h-1zM88 270h1v1h-1zM94 276h1v1h-1zM86 271h1v1h-1zM94 277h1v1h-1zM87 281h1v1h-1zM93 272h1v1h-1zM84 267h1v1h-1zM95 273h1v1h-1zM98 272h1v1h-1zM88 271h1v1h-1zM96 266h1v1h-1zM83 274h1v1h-1zM102 271h1v1h-1zM90 272h1v1h-1zM82 274h1v1h-1zM88 278h1v1h-1zM93 277h1v1h-1zM89 280h1v1h-1zM86 273h1v1h-1zM85 273h1v1h-1zM107 271h1v1h-1zM92 273h1v1h-1zM88 268h1v1h-1zM95 261h1v1h-1zM98 273h1v1h-1zM95 275h1v1h-1zM89 275h1v1h-1zM88 267h1v1h-1zM110 270h1v1h-1zM82 272h1v1h-1zM89 270h1v1h-1zM94 271h1v1h-1zM76 276h1v1h-1zM85 272h1v1h-1zM88 275h1v1h-1zM80 276h1v1h-1zM93 266h1v1h-1zM85 276h1v1h-1zM93 282h1v1h-1zM88 276h1v1h-1zM90 268h1v1h-1zM87 280h1v1h-1zM88 278h1v1h-1zM92 283h1v1h-1zM95 273h1v1h-1zM98 275h1v1h-1zM96 269h1v1h-1zM86 268h1v1h-1zM84 266h1v1h-1zM88 272h1v1h-1zM93 270h1v1h-1zM90 269h1v1h-1zM86 274h1v1h-1zM87 285h1v1h-1zM93 283h1v1h-1zM92 275h1v1h-1zM86 282h1v1h-1zM84 275h1v1h-1zM90 271h1v1h-1zM101 272h1v1h-1zM86 271h1v1h-1zM88 288h1v1h-1zM91 275h1v1h-1zM88 277h1v1h-1zM94 278h1v1h-1zM90 273h1v1h-1zM94 265h1v1h-1zM88 275h1v1h-1zM80 273h1v1h-1zM85 278h1v1h-1zM95 278h1v1h-1zM91 268h1v1h-1zM94 277h1v1h-1zM81 281h1v1h-1zM83 283h1v1h-1zM87 274h1v1h-1zM94 276h1v1h-1zM90 273h1v1h-1zM91 283h1v1h-1z" fill="#000" fill-opacity="0.8"/>
<path d="M91 250h1v1h-1zM100 244h1v1h-1zM93 264h1v1h-1zM97 243h1v1h-1zM96 253h1v1h-1zM96 257h1v1h-1zM99 246h1v1h-1zM90 252h1v1h-1zM94 249h1v1h-1zM107 243h1v1h-1zM92 242h1v1h-1zM96 250h1v1h-1zM90 251h1v1h-1zM91 258h1v1h-1zM91 252h1v1h-1zM95 257h1v1h-1zM98 247h1v1h-1zM94 250h1v1h-1zM87 251h1v1h-1zM94 264h1v1h-1zM91 250h1v1h-1zM75 259h1v1h-1zM103 250h1v1h-1zM94 262h1v1h-1zM89 257h1v1h-1zM101 251h1v1h-1zM94 246h1v1h-1zM99 254h1v1h-1zM104 260h1v1h-1zM95 269h1v1h-1zM85 264h1v1h-1zM95 255h1v1h-1zM88 254h1v1h-1zM96 255h1v1h-1zM99 251h1v1h-1zM96 260h1v1h-1zM91 248h1v1h-1zM99 252h1v1h-1zM102 255h1v1h-1zM100 250h1v1h-1zM99 245h1v1h-1zM113 253h1v1h-1zM96 250h1v1h-1zM98 259h1v1h-1zM95 254h1v1h-1zM100 242h1v1h-1zM107 244h1v1h-1zM95 252h1v1h-1zM100 249h1v1h-1zM98 246h1v1h-1zM94 255h1v1h-1zM101 245h1v1h-1zM92 260h1v1h-1zM102 251h1v1h-1zM102 241h1v1h-1zM105 246h1v1h-1zM100 260h1v1h-1zM95 244h1v1h-1zM101 244h1v1h-1zM87 269h1v1h-1zM93 255h1v1h-1zM101 248h1v1h-1zM101 256h1v1h-1zM96 245h1v1h-1zM101 256h1v1h-1zM93 259h1v1h-1zM100 255h1v1h-1zM102 239h1v1h-1zM99 250h1v1h-1zM97 256h1v1h-1z" fill="#000" fill-opacity="0.62"/>
<path d="M117 270h1v1h-1zM104 241h1v1h-1zM110 247h1v1h-1zM125 271h1v1h-1zM108 277h1v1h-1zM109 251h1v1h-1zM112 262h1v1h-1zM116 261h1v1h-1zM121 278h1v1h-1zM109 251h1v1h-1zM107 273h1v1h-1zM111 251h1v1h-1zM108 294h1v1h-1zM122 263h1v1h-1zM120 252h1v1h-1zM108 269h1v1h-1zM111 264h1v1h-1zM118 285h1v1h-1zM106 285h1v1h-1zM112 256h1v1h-1zM106 255h1v1h-1zM105 267h1v1h-1zM104 268h1v1h-1zM111 286h1v1h-1zM107 261h1v1h-1zM102 275h1v1h-1zM108 256h1v1h-1zM108 265h1v1h-1zM117 267h1v1h-1zM112 274h1v1h-1zM103 270h1v1h-1zM102 243h1v1h-1zM112 257h1v1h-1zM89 274h1v1h-1zM108 264h1v1h-1zM114 261h1v1h-1zM107 264h1v1h-1zM115 234h1v1h-1zM105 256h1v1h-1zM113 258h1v1h-1zM120 260h1v1h-1zM117 260h1v1h-1zM110 257h1v1h-1zM117 257h1v1h-1zM118 250h1v1h-1zM99 261h1v1h-1zM107 266h1v1h-1zM110 295h1v1h-1zM96 267h1v1h-1zM111 253h1v1h-1zM103 263h1v1h-1zM101 273h1v1h-1zM105 243h1v1h-1zM97 255h1v1h-1zM108 261h1v1h-1zM120 280h1v1h-1zM109 283h1v1h-1zM115 270h1v1h-1zM113 256h1v1h-1zM119 289h1v1h-1z" fill="#000" fill-opacity="0.62"/>
<path d="M109 246h1v1h-1zM120 230h1v1h-1zM112 234h1v1h-1zM106 245h1v1h-1zM124 228h1v1h-1zM111 235h1v1h-1zM108 249h1v1h-1zM125 230h1v1h-1zM119 226h1v1h-1zM114 238h1v1h-1zM110 244h1v1h-1zM108 240h1v1h-1zM116 226h1v1h-1zM122 223h1v1h-1zM107 243h1v1h-1zM114 231h1v1h-1zM122 224h1v1h-1zM110 247h1v1h-1zM121 241h1v1h-1zM117 232h1v1h-1zM113 235h1v1h-1zM106 247h1v1h-1zM105 235h1v1h-1zM126 226h1v1h-1zM109 242h1v1h-1zM111 238h1v1h-1zM119 234h1v1h-1zM106 244h1v1h-1zM124 225h1v1h-1zM118 225h1v1h-1zM103 242h1v1h-1zM107 248h1v1h-1zM108 245h1v1h-1zM123 234h1v1h-1zM118 233h1v1h-1zM108 245h1v1h-1zM114 234h1v1h-1zM112 245h1v1h-1zM116 236h1v1h-1zM118 236h1v1h-1zM120 220h1v1h-1zM114 235h1v1h-1zM104 244h1v1h-1zM114 236h1v1h-1zM115 238h1v1h-1zM126 219h1v1h-1zM107 243h1v1h-1zM108 241h1v1h-1zM113 244h1v1h-1zM108 246h1v1h-1zM111 236h1v1h-1zM120 238h1v1h-1zM110 244h1v1h-1zM105 247h1v1h-1zM111 236h1v1h-1zM130 223h1v1h-1zM108 249h1v1h-1zM111 243h1v1h-1zM103 243h1v1h-1zM118 236h1v1h-1zM109 243h1v1h-1zM106 248h1v1h-1zM105 243h1v1h-1zM117 237h1v1h-1zM114 238h1v1h-1z" fill="#000" fill-opacity="0.62"/>
<path d="M93 280h1v1h-1zM92 301h1v1h-1zM80 294h1v1h-1zM87 268h1v1h-1zM86 307h1v1h-1zM85 283h1v1h-1zM82 316h1v1h-1zM79 296h1v1h-1zM59 296h1v1h-1zM91 284h1v1h-1zM79 270h1v1h-1zM84 279h1v1h-1zM67 284h1v1h-1zM73 277h1v1h-1zM64 289h1v1h-1zM97 282h1v1h-1zM75 269h1v1h-1zM66 288h1v1h-1zM92 288h1v1h-1zM86 292h1v1h-1zM92 294h1v1h-1zM56 288h1v1h-1zM67 300h1v1h-1zM90 288h1v1h-1zM89 290h1v1h-1zM81 274h1v1h-1zM86 285h1v1h-1zM84 279h1v1h-1zM101 295h1v1h-1zM82 281h1v1h-1zM85 302h1v1h-1zM74 280h1v1h-1zM78 302h1v1h-1zM84 294h1v1h-1zM111 274h1v1h-1zM89 290h1v1h-1zM75 289h1v1h-1zM90 280h1v1h-1zM84 299h1v1h-1zM70 282h1v1h-1zM77 298h1v1h-1zM81 296h1v1h-1zM75 291h1v1h-1zM80 285h1v1h-1zM78 287h1v1h-1zM84 299h1v1h-1zM84 299h1v1h-1zM82 307h1v1h-1zM98 287h1v1h-1zM92 287h1v1h-1zM84 296h1v1h-1zM81 283h1v1h-1zM77 298h1v1h-1zM91 277h1v1h-1zM75 300h1v1h-1zM70 289h1v1h-1zM85 289h1v1h-1zM74 288h1v1h-1zM75 259h1v1h-1zM66 298h1v1h-1zM99 270h1v1h-1zM93 288h1v1h-1zM97 287h1v1h-1zM81 268h1v1h-1zM93 303h1v1h-1zM79 275h1v1h-1zM83 275h1v1h-1zM97 292h1v1h-1zM73 271h1v1h-1zM91 295h1v1h-1zM78 296h1v1h-1zM80 294h1v1h-1zM91 299h1v1h-1zM86 301h1v1h-1zM81 287h1v1h-1zM104 301h1v1h-1zM73 284h1v1h-1zM97 301h1v1h-1zM72 301h1v1h-1zM68 279h1v1h-1zM66 298h1v1h-1zM73 280h1v1h-1zM90 289h1v1h-1zM90 276h1v1h-1zM81 282h1v1h-1zM68 285h1v1h-1zM72 276h1v1h-1zM65 281h1v1h-1zM53 295h1v1h-1zM79 288h1v1h-1zM87 298h1v1h-1zM65 283h1v1h-1zM74 288h1v1h-1zM54 287h1v1h-1zM76 299h1v1h-1zM76 279h1v1h-1zM87 297h1v1h-1zM85 267h1v1h-1zM86 295h1v1h-1zM88 286h1v1h-1zM81 283h1v1h-1zM89 290h1v1h-1zM98 301h1v1h-1zM86 272h1v1h-1zM80 267h1v1h-1zM77 294h1v1h-1zM91 272h1v1h-1zM79 307h1v1h-1zM76 283h1v1h-1zM92 279h1v1h-1zM78 271h1v1h-1zM81 285h1v1h-1zM85 276h1v1h-1zM91 293h1v1h-1zM90 294h1v1h-1zM68 291h1v1h-1zM82 277h1v1h-1zM87 275h1v1h-1zM84 293h1v1h-1zM91 279h1v1h-1zM93 290h1v1h-1zM84 284h1v1h-1zM72 295h1v1h-1zM87 298h1v1h-1zM78 286h1v1h-1zM86 293h1v1h-1zM72 295h1v1h-1zM97 296h1v1h-1zM83 308h1v1h-1zM79 283h1v1h-1zM79 298h1v1h-1zM71 284h1v1h-1zM92 291h1v1h-1zM81 280h1v1h-1zM93 274h1v1h-1zM71 302h1v1h-1zM77 288h1v1h-1zM73 295h1v1h-1zM97 302h1v1h-1zM78 281h1v1h-1zM75 279h1v1h-1zM88 292h1v1h-1zM64 318h1v1h-1zM75 282h1v1h-1zM78 305h1v1h-1zM88 301h1v1h-1zM65 298h1v1h-1zM63 278h1v1h-1zM98 292h1v1h-1zM100 309h1v1h-1zM82 286h1v1h-1zM68 310h1v1h-1zM85 302h1v1h-1zM92 290h1v1h-1zM70 297h1v1h-1zM65 286h1v1h-1zM108 286h1v1h-1zM86 297h1v1h-1zM96 272h1v1h-1zM63 295h1v1h-1zM68 293h1v1h-1zM78 266h1v1h-1zM79 298h1v1h-1zM76 284h1v1h-1zM75 312h1v1h-1zM82 264h1v1h-1zM101 279h1v1h-1zM89 289h1v1h-1zM86 287h1v1h-1zM89 289h1v1h-1zM105 294h1v1h-1zM71 301h1v1h-1zM101 288h1v1h-1zM76 279h1v1h-1zM84 283h1v1h-1zM92 278h1v1h-1zM88 272h1v1h-1zM74 281h1v1h-1zM94 289h1v1h-1zM86 315h1v1h-1zM101 281h1v1h-1zM89 309h1v1h-1zM101 294h1v1h-1zM97 294h1v1h-1zM84 298h1v1h-1zM104 266h1v1h-1zM94 288h1v1h-1zM90 299h1v1h-1zM80 315h1v1h-1zM91 289h1v1h-1zM87 295h1v1h-1zM98 294h1v1h-1zM90 295h1v1h-1zM80 293h1v1h-1zM77 283h1v1h-1zM100 301h1v1h-1zM87 300h1v1h-1zM83 286h1v1h-1zM83 281h1v1h-1zM90 298h1v1h-1zM82 279h1v1h-1zM62 297h1v1h-1zM73 290h1v1h-1zM90 272h1v1h-1zM97 303h1v1h-1zM99 289h1v1h-1zM66 302h1v1h-1zM82 276h1v1h-1zM81 288h1v1h-1zM76 271h1v1h-1zM110 268h1v1h-1zM84 288h1v1h-1zM82 299h1v1h-1zM78 290h1v1h-1zM74 297h1v1h-1zM74 291h1v1h-1zM86 284h1v1h-1zM101 299h1v1h-1zM93 285h1v1h-1zM66 280h1v1h-1zM93 271h1v1h-1zM86 282h1v1h-1zM81 289h1v1h-1zM77 279h1v1h-1zM94 276h1v1h-1zM86 288h1v1h-1zM81 287h1v1h-1zM68 291h1v1h-1zM81 285h1v1h-1zM66 278h1v1h-1zM73 309h1v1h-1zM89 274h1v1h-1zM113 278h1v1h-1zM77 291h1v1h-1zM77 278h1v1h-1zM69 270h1v1h-1zM101 292h1v1h-1zM84 296h1v1h-1zM68 293h1v1h-1zM104 278h1v1h-1zM84 289h1v1h-1zM90 291h1v1h-1zM91 294h1v1h-1zM83 278h1v1h-1zM75 299h1v1h-1zM81 301h1v1h-1zM100 283h1v1h-1zM86 281h1v1h-1zM85 285h1v1h-1zM104 294h1v1h-1zM93 300h1v1h-1zM86 282h1v1h-1zM90 306h1v1h-1zM77 284h1v1h-1zM84 282h1v1h-1zM81 282h1v1h-1zM91 275h1v1h-1zM85 284h1v1h-1zM89 286h1v1h-1zM70 294h1v1h-1z" fill="#000" fill-opacity="0.62"/>
<path d="M83 289h1v1h-1zM61 299h1v1h-1zM78 285h1v1h-1zM75 290h1v1h-1zM86 305h1v1h-1zM60 294h1v1h-1zM81 271h1v1h-1zM75 282h1v1h-1zM98 294h1v1h-1zM64 282h1v1h-1zM65 279h1v1h-1zM78 312h1v1h-1zM61 296h1v1h-1zM74 318h1v1h-1zM75 291h1v1h-1zM80 300h1v1h-1zM67 281h1v1h-1zM72 301h1v1h-1zM79 305h1v1h-1zM94 299h1v1h-1zM54 291h1v1h-1zM84 293h1v1h-1zM85 281h1v1h-1zM93 292h1v1h-1zM67 277h1v1h-1zM83 306h1v1h-1zM98 286h1v1h-1zM80 269h1v1h-1zM74 300h1v1h-1zM68 290h1v1h-1zM49 290h1v1h-1zM64 290h1v1h-1zM81 293h1v1h-1zM67 288h1v1h-1zM65 303h1v1h-1zM82 286h1v1h-1zM98 302h1v1h-1zM94 291h1v1h-1zM89 287h1v1h-1zM39 298h1v1h-1zM73 304h1v1h-1zM64 276h1v1h-1zM52 305h1v1h-1zM87 275h1v1h-1zM80 298h1v1h-1zM55 293h1v1h-1zM74 300h1v1h-1zM87 287h1v1h-1zM107 283h1v1h-1zM98 269h1v1h-1zM71 279h1v1h-1zM84 296h1v1h-1zM69 308h1v1h-1zM76 295h1v1h-1zM51 314h1v1h-1zM49 284h1v1h-1zM80 276h1v1h-1zM70 304h1v1h-1zM83 304h1v1h-1zM93 294h1v1h-1zM84 286h1v1h-1zM89 282h1v1h-1zM99 280h1v1h-1zM55 293h1v1h-1zM76 297h1v1h-1zM54 299h1v1h-1zM73 295h1v1h-1zM72 308h1v1h-1zM90 300h1v1h-1zM75 277h1v1h-1zM76 294h1v1h-1zM84 294h1v1h-1zM69 292h1v1h-1zM89 265h1v1h-1zM66 284h1v1h-1zM70 312h1v1h-1zM88 299h1v1h-1zM90 305h1v1h-1zM67 301h1v1h-1zM92 298h1v1h-1zM72 291h1v1h-1zM101 295h1v1h-1zM65 286h1v1h-1zM104 293h1v1h-1zM91 292h1v1h-1zM81 298h1v1h-1zM71 290h1v1h-1zM56 316h1v1h-1zM69 289h1v1h-1zM60 309h1v1h-1z" fill="#000" fill-opacity="0.62"/>
<polygon points="111.7,239.5 104,249 97,256 90,262 85,267 84,271 87,276 92,280 97,281.5 101,280 101.5,268 103,256" fill="#000" filter="url(#bl05)"/>
</g>
<line x1="101.50" y1="173.50" x2="101.50" y2="318.20" stroke="#6a2a2a" stroke-width="1.1"/>
<line x1="26.00" y1="266.60" x2="177.00" y2="266.60" stroke="#6a2a2a" stroke-width="1.1"/>
<path d="M26.00 318.20v5.0 M35.09 318.20v4.2 M40.41 318.20v4.2 M44.18 318.20v4.2 M47.11 318.20v4.2 M49.50 318.20v4.2 M51.52 318.20v4.2 M53.27 318.20v4.2 M54.82 318.20v4.2 M56.20 318.20v5.0 M65.29 318.20v4.2 M70.61 318.20v4.2 M74.38 318.20v4.2 M77.31 318.20v4.2 M79.70 318.20v4.2 M81.72 318.20v4.2 M83.47 318.20v4.2 M85.02 318.20v4.2 M86.40 318.20v5.0 M95.49 318.20v4.2 M100.81 318.20v4.2 M104.58 318.20v4.2 M107.51 318.20v4.2 M109.90 318.20v4.2 M111.92 318.20v4.2 M113.67 318.20v4.2 M115.22 318.20v4.2 M116.60 318.20v5.0 M125.69 318.20v4.2 M131.01 318.20v4.2 M134.78 318.20v4.2 M137.71 318.20v4.2 M140.10 318.20v4.2 M142.12 318.20v4.2 M143.87 318.20v4.2 M145.42 318.20v4.2 M146.80 318.20v5.0 M155.89 318.20v4.2 M161.21 318.20v4.2 M164.98 318.20v4.2 M167.91 318.20v4.2 M170.30 318.20v4.2 M172.32 318.20v4.2 M174.07 318.20v4.2 M175.62 318.20v4.2 M177.00 318.20v5.0 M26.00 310.80h-4.4 M26.00 305.89h-4.4 M26.00 302.40h-4.4 M26.00 299.70h-4.4 M26.00 297.49h-4.4 M26.00 295.62h-4.4 M26.00 294.00h-4.4 M26.00 292.58h-4.4 M26.00 291.30h-5.0 M26.00 282.90h-4.4 M26.00 277.99h-4.4 M26.00 274.50h-4.4 M26.00 271.80h-4.4 M26.00 269.59h-4.4 M26.00 267.72h-4.4 M26.00 266.10h-4.4 M26.00 264.68h-4.4 M26.00 263.40h-5.0 M26.00 255.00h-4.4 M26.00 250.09h-4.4 M26.00 246.60h-4.4 M26.00 243.90h-4.4 M26.00 241.69h-4.4 M26.00 239.82h-4.4 M26.00 238.20h-4.4 M26.00 236.78h-4.4 M26.00 235.50h-5.0 M26.00 227.10h-4.4 M26.00 222.19h-4.4 M26.00 218.70h-4.4 M26.00 216.00h-4.4 M26.00 213.79h-4.4 M26.00 211.92h-4.4 M26.00 210.30h-4.4 M26.00 208.88h-4.4 M26.00 207.60h-5.0 M26.00 199.20h-4.4 M26.00 194.29h-4.4 M26.00 190.80h-4.4 M26.00 188.10h-4.4 M26.00 185.89h-4.4 M26.00 184.02h-4.4 M26.00 182.40h-4.4 M26.00 180.98h-4.4 M26.00 179.70h-5.0 M26.00 173.50h-5" stroke="#2a6688" stroke-width="1" fill="none"/>
<rect x="26.0" y="173.5" width="151.0" height="144.7" fill="none" stroke="#2f6496" stroke-width="1.4"/>
<text x="28.30" y="332.90" font-size="4.8" fill="#1a3a9c" font-weight="bold" text-anchor="end" stroke="#1a3a9c" stroke-width="0.14">10</text>
<text x="28.60" y="329.00" font-size="4.9" fill="#1a3a9c" font-weight="bold" stroke="#1a3a9c" stroke-width="0.14">1</text>
<text x="55.60" y="332.90" font-size="4.8" fill="#1a3a9c" font-weight="bold" text-anchor="end" stroke="#1a3a9c" stroke-width="0.14">10</text>
<text x="55.90" y="329.00" font-size="4.9" fill="#1a3a9c" font-weight="bold" stroke="#1a3a9c" stroke-width="0.14">2</text>
<text x="84.20" y="332.90" font-size="4.8" fill="#1a3a9c" font-weight="bold" text-anchor="end" stroke="#1a3a9c" stroke-width="0.14">10</text>
<text x="84.50" y="329.00" font-size="4.9" fill="#1a3a9c" font-weight="bold" stroke="#1a3a9c" stroke-width="0.14">3</text>
<text x="116.50" y="332.90" font-size="4.8" fill="#1a3a9c" font-weight="bold" text-anchor="end" stroke="#1a3a9c" stroke-width="0.14">10</text>
<text x="116.80" y="329.00" font-size="4.9" fill="#1a3a9c" font-weight="bold" stroke="#1a3a9c" stroke-width="0.14">4</text>
<text x="143.60" y="332.90" font-size="4.8" fill="#1a3a9c" font-weight="bold" text-anchor="end" stroke="#1a3a9c" stroke-width="0.14">10</text>
<text x="143.90" y="329.00" font-size="4.9" fill="#1a3a9c" font-weight="bold" stroke="#1a3a9c" stroke-width="0.14">5</text>
<text x="174.20" y="332.90" font-size="4.8" fill="#1a3a9c" font-weight="bold" text-anchor="end" stroke="#1a3a9c" stroke-width="0.14">10</text>
<text x="174.50" y="329.00" font-size="4.9" fill="#1a3a9c" font-weight="bold" stroke="#1a3a9c" stroke-width="0.14">6</text>
<text x="17.10" y="316.60" font-size="4.7" fill="#1a3a9c" font-weight="bold" text-anchor="end" transform="rotate(-90 17.10 316.60)" stroke="#1a3a9c" stroke-width="0.14">10</text>
<text x="13.00" y="316.20" font-size="4.7" fill="#1a3a9c" font-weight="bold" transform="rotate(-90 13.00 316.20)" stroke="#1a3a9c" stroke-width="0.14">1</text>
<text x="17.10" y="291.60" font-size="4.7" fill="#1a3a9c" font-weight="bold" text-anchor="end" transform="rotate(-90 17.10 291.60)" stroke="#1a3a9c" stroke-width="0.14">10</text>
<text x="13.00" y="291.20" font-size="4.7" fill="#1a3a9c" font-weight="bold" transform="rotate(-90 13.00 291.20)" stroke="#1a3a9c" stroke-width="0.14">2</text>
<text x="17.10" y="264.30" font-size="4.7" fill="#1a3a9c" font-weight="bold" text-anchor="end" transform="rotate(-90 17.10 264.30)" stroke="#1a3a9c" stroke-width="0.14">10</text>
<text x="13.00" y="263.90" font-size="4.7" fill="#1a3a9c" font-weight="bold" transform="rotate(-90 13.00 263.90)" stroke="#1a3a9c" stroke-width="0.14">3</text>
<text x="17.10" y="237.00" font-size="4.7" fill="#1a3a9c" font-weight="bold" text-anchor="end" transform="rotate(-90 17.10 237.00)" stroke="#1a3a9c" stroke-width="0.14">10</text>
<text x="13.00" y="236.60" font-size="4.7" fill="#1a3a9c" font-weight="bold" transform="rotate(-90 13.00 236.60)" stroke="#1a3a9c" stroke-width="0.14">4</text>
<text x="17.10" y="209.90" font-size="4.7" fill="#1a3a9c" font-weight="bold" text-anchor="end" transform="rotate(-90 17.10 209.90)" stroke="#1a3a9c" stroke-width="0.14">10</text>
<text x="13.00" y="209.50" font-size="4.7" fill="#1a3a9c" font-weight="bold" transform="rotate(-90 13.00 209.50)" stroke="#1a3a9c" stroke-width="0.14">5</text>
<text x="17.10" y="177.00" font-size="4.7" fill="#1a3a9c" font-weight="bold" text-anchor="end" transform="rotate(-90 17.10 177.00)" stroke="#1a3a9c" stroke-width="0.14">10</text>
<text x="13.00" y="176.60" font-size="4.7" fill="#1a3a9c" font-weight="bold" transform="rotate(-90 13.00 176.60)" stroke="#1a3a9c" stroke-width="0.14">6.3</text>
<text x="27.60" y="180.10" font-size="6.15" fill="#e8202a" font-weight="bold" stroke="#e8202a" stroke-width="0.14">UL 12.3 ± 0.57</text>
<text x="174.60" y="180.10" font-size="6.15" fill="#e8202a" font-weight="bold" text-anchor="end" stroke="#e8202a" stroke-width="0.14">UR 6.9 ± 0.35</text>
<text x="27.60" y="315.80" font-size="6.15" fill="#e8202a" font-weight="bold" stroke="#e8202a" stroke-width="0.14">LL 79.8 ± 0.57</text>
<text x="174.60" y="315.80" font-size="6.15" fill="#e8202a" font-weight="bold" text-anchor="end" stroke="#e8202a" stroke-width="0.14">LR 0.84 ± 0.09</text>
<text x="104.20" y="168.30" font-size="7.45" fill="#111" font-weight="bold" text-anchor="middle" stroke="#111" stroke-width="0.14">Ag-NPs-untreated group</text>
<text x="4.30" y="166.60" font-size="12.5" fill="#000" font-weight="bold">f</text>
<text x="49.20" y="340.10" font-size="6.45" fill="#111" font-weight="bold" stroke="#111" stroke-width="0.14">Annexin-FITC-H</text>
<text x="166.30" y="339.40" font-size="6.2" fill="#e8202a" font-weight="bold" text-anchor="end" stroke="#e8202a" stroke-width="0.14">(UR + LR = 7.77 ± 0.29)</text>
<text x="9.20" y="248.30" font-size="6.2" fill="#111" font-weight="bold" text-anchor="middle" transform="rotate(-90 9.20 248.30)" stroke="#111" stroke-width="0.14">PI-PE-H</text>
<text x="17.0" y="0" font-size="4.5" fill="#1d3fa0" font-weight="bold"></text>
<clipPath id="cp22"><rect x="225.5" y="173.6" width="151.3" height="144.50000000000003"/></clipPath>
<g clip-path="url(#cp22)">
<path d="M296 286h1v1h-1zM291 283h1v1h-1zM291 273h1v1h-1zM294 286h1v1h-1zM293 284h1v1h-1zM295 271h1v1h-1zM287 278h1v1h-1zM280 284h1v1h-1zM293 288h1v1h-1zM280 265h1v1h-1zM296 280h1v1h-1zM288 268h1v1h-1zM290 270h1v1h-1zM293 286h1v1h-1zM292 278h1v1h-1zM292 286h1v1h-1zM282 277h1v1h-1zM293 280h1v1h-1zM294 284h1v1h-1zM297 278h1v1h-1zM285 276h1v1h-1zM286 277h1v1h-1zM282 283h1v1h-1zM300 286h1v1h-1zM291 276h1v1h-1zM297 279h1v1h-1zM300 275h1v1h-1zM288 283h1v1h-1zM299 280h1v1h-1zM288 281h1v1h-1zM291 283h1v1h-1zM284 285h1v1h-1zM291 274h1v1h-1zM284 266h1v1h-1zM290 283h1v1h-1zM297 277h1v1h-1zM288 271h1v1h-1zM295 284h1v1h-1zM284 277h1v1h-1zM300 275h1v1h-1zM294 278h1v1h-1zM289 272h1v1h-1zM285 284h1v1h-1zM298 282h1v1h-1zM293 277h1v1h-1zM289 275h1v1h-1zM283 280h1v1h-1zM295 273h1v1h-1zM285 278h1v1h-1zM296 283h1v1h-1zM293 273h1v1h-1zM288 290h1v1h-1zM294 280h1v1h-1zM292 283h1v1h-1zM284 274h1v1h-1zM280 280h1v1h-1zM296 274h1v1h-1zM288 282h1v1h-1zM290 283h1v1h-1zM289 274h1v1h-1zM284 281h1v1h-1zM289 277h1v1h-1zM292 274h1v1h-1zM304 285h1v1h-1zM285 270h1v1h-1zM291 278h1v1h-1zM293 280h1v1h-1zM287 280h1v1h-1zM283 288h1v1h-1zM289 276h1v1h-1zM298 278h1v1h-1zM287 278h1v1h-1zM286 282h1v1h-1zM291 282h1v1h-1zM296 278h1v1h-1zM289 283h1v1h-1zM299 279h1v1h-1zM288 282h1v1h-1zM295 280h1v1h-1zM296 275h1v1h-1zM292 284h1v1h-1zM285 282h1v1h-1zM292 274h1v1h-1zM298 281h1v1h-1zM281 277h1v1h-1zM292 277h1v1h-1zM277 282h1v1h-1zM297 273h1v1h-1zM297 280h1v1h-1zM286 271h1v1h-1zM287 282h1v1h-1zM294 288h1v1h-1zM286 282h1v1h-1zM287 272h1v1h-1zM293 275h1v1h-1zM290 284h1v1h-1zM290 281h1v1h-1zM277 277h1v1h-1zM295 277h1v1h-1zM289 283h1v1h-1zM294 290h1v1h-1zM282 273h1v1h-1zM280 272h1v1h-1zM282 269h1v1h-1zM285 285h1v1h-1zM284 273h1v1h-1zM301 282h1v1h-1zM293 276h1v1h-1zM297 278h1v1h-1zM290 275h1v1h-1zM293 282h1v1h-1zM296 275h1v1h-1zM286 272h1v1h-1zM291 283h1v1h-1zM282 277h1v1h-1zM283 275h1v1h-1zM303 292h1v1h-1zM289 273h1v1h-1zM294 273h1v1h-1zM306 277h1v1h-1zM294 285h1v1h-1zM288 289h1v1h-1zM294 276h1v1h-1zM291 281h1v1h-1zM284 289h1v1h-1zM289 290h1v1h-1zM290 278h1v1h-1zM293 281h1v1h-1zM290 283h1v1h-1zM290 279h1v1h-1zM280 279h1v1h-1zM290 286h1v1h-1zM285 287h1v1h-1zM298 279h1v1h-1zM284 280h1v1h-1zM285 275h1v1h-1zM280 276h1v1h-1zM287 277h1v1h-1zM290 277h1v1h-1zM298 282h1v1h-1zM287 285h1v1h-1zM295 276h1v1h-1zM290 284h1v1h-1zM290 285h1v1h-1zM288 279h1v1h-1zM283 275h1v1h-1zM297 279h1v1h-1zM297 278h1v1h-1zM282 277h1v1h-1zM299 284h1v1h-1zM289 275h1v1h-1zM291 280h1v1h-1zM287 278h1v1h-1zM299 282h1v1h-1zM291 283h1v1h-1zM297 273h1v1h-1zM280 272h1v1h-1zM298 284h1v1h-1zM287 277h1v1h-1zM294 284h1v1h-1zM282 278h1v1h-1zM287 281h1v1h-1zM287 281h1v1h-1zM287 276h1v1h-1zM296 282h1v1h-1zM293 278h1v1h-1zM285 285h1v1h-1zM289 285h1v1h-1zM293 274h1v1h-1zM282 272h1v1h-1zM293 284h1v1h-1zM278 274h1v1h-1zM295 283h1v1h-1zM297 276h1v1h-1zM289 282h1v1h-1zM284 273h1v1h-1zM288 268h1v1h-1zM294 266h1v1h-1zM291 276h1v1h-1zM292 275h1v1h-1zM291 281h1v1h-1zM289 273h1v1h-1zM302 276h1v1h-1zM288 279h1v1h-1zM292 276h1v1h-1zM290 277h1v1h-1zM287 280h1v1h-1zM288 284h1v1h-1zM297 283h1v1h-1zM286 287h1v1h-1zM287 275h1v1h-1zM289 278h1v1h-1zM297 277h1v1h-1zM279 272h1v1h-1zM303 278h1v1h-1zM285 275h1v1h-1zM293 274h1v1h-1zM289 283h1v1h-1zM290 278h1v1h-1zM286 280h1v1h-1zM298 278h1v1h-1zM296 274h1v1h-1zM295 278h1v1h-1zM296 276h1v1h-1zM292 284h1v1h-1zM290 284h1v1h-1zM279 277h1v1h-1zM293 275h1v1h-1zM286 277h1v1h-1zM292 283h1v1h-1zM289 282h1v1h-1zM292 282h1v1h-1zM291 279h1v1h-1zM298 295h1v1h-1zM301 282h1v1h-1zM293 291h1v1h-1zM294 272h1v1h-1zM292 277h1v1h-1zM298 294h1v1h-1zM281 285h1v1h-1zM294 275h1v1h-1zM300 286h1v1h-1zM298 274h1v1h-1zM291 280h1v1h-1zM286 281h1v1h-1zM296 274h1v1h-1zM298 283h1v1h-1zM287 277h1v1h-1zM292 278h1v1h-1zM290 271h1v1h-1zM296 278h1v1h-1zM293 287h1v1h-1zM274 278h1v1h-1zM286 289h1v1h-1zM296 274h1v1h-1zM295 281h1v1h-1zM291 280h1v1h-1zM289 280h1v1h-1zM294 276h1v1h-1zM287 280h1v1h-1zM292 277h1v1h-1zM285 277h1v1h-1zM304 287h1v1h-1zM289 272h1v1h-1zM275 276h1v1h-1zM283 269h1v1h-1zM298 282h1v1h-1zM285 286h1v1h-1zM291 275h1v1h-1zM288 277h1v1h-1zM288 292h1v1h-1zM297 281h1v1h-1zM296 274h1v1h-1zM298 290h1v1h-1zM290 278h1v1h-1zM299 278h1v1h-1zM283 281h1v1h-1zM290 287h1v1h-1zM292 275h1v1h-1zM283 273h1v1h-1zM296 290h1v1h-1zM289 275h1v1h-1zM297 287h1v1h-1zM292 275h1v1h-1zM297 280h1v1h-1zM293 282h1v1h-1zM289 277h1v1h-1zM284 281h1v1h-1zM299 288h1v1h-1zM280 274h1v1h-1zM289 285h1v1h-1zM284 277h1v1h-1zM289 285h1v1h-1zM298 285h1v1h-1zM291 279h1v1h-1zM287 275h1v1h-1zM297 280h1v1h-1zM296 282h1v1h-1zM299 284h1v1h-1zM294 283h1v1h-1zM297 280h1v1h-1zM286 276h1v1h-1zM292 278h1v1h-1zM286 278h1v1h-1zM292 272h1v1h-1zM292 284h1v1h-1zM282 282h1v1h-1zM285 281h1v1h-1zM287 280h1v1h-1zM289 277h1v1h-1zM302 278h1v1h-1zM297 283h1v1h-1zM288 284h1v1h-1zM292 285h1v1h-1zM293 280h1v1h-1zM287 282h1v1h-1zM295 279h1v1h-1zM287 281h1v1h-1zM295 278h1v1h-1zM286 282h1v1h-1zM290 281h1v1h-1zM293 280h1v1h-1zM293 282h1v1h-1zM296 281h1v1h-1zM285 282h1v1h-1zM287 281h1v1h-1zM293 284h1v1h-1zM288 277h1v1h-1zM286 272h1v1h-1zM278 281h1v1h-1zM293 286h1v1h-1zM291 283h1v1h-1zM296 283h1v1h-1zM286 283h1v1h-1zM295 275h1v1h-1zM291 280h1v1h-1zM280 282h1v1h-1zM283 279h1v1h-1zM285 278h1v1h-1zM294 286h1v1h-1zM296 279h1v1h-1zM292 275h1v1h-1zM287 279h1v1h-1zM288 278h1v1h-1zM288 284h1v1h-1zM290 285h1v1h-1zM283 280h1v1h-1zM286 279h1v1h-1zM298 282h1v1h-1zM298 278h1v1h-1zM290 273h1v1h-1zM292 278h1v1h-1zM293 281h1v1h-1zM295 276h1v1h-1zM291 275h1v1h-1zM300 280h1v1h-1zM295 273h1v1h-1zM295 275h1v1h-1zM295 273h1v1h-1zM286 283h1v1h-1zM291 279h1v1h-1zM298 278h1v1h-1zM292 279h1v1h-1zM302 285h1v1h-1zM295 284h1v1h-1zM284 275h1v1h-1zM304 280h1v1h-1zM290 277h1v1h-1zM295 271h1v1h-1zM296 280h1v1h-1zM296 278h1v1h-1zM283 276h1v1h-1zM296 284h1v1h-1zM297 274h1v1h-1zM287 283h1v1h-1zM298 288h1v1h-1zM294 287h1v1h-1zM290 282h1v1h-1zM281 273h1v1h-1zM287 273h1v1h-1zM293 273h1v1h-1zM286 276h1v1h-1zM293 282h1v1h-1zM290 283h1v1h-1zM292 279h1v1h-1zM298 279h1v1h-1zM288 280h1v1h-1zM286 280h1v1h-1zM285 270h1v1h-1zM284 276h1v1h-1zM306 290h1v1h-1zM291 283h1v1h-1zM293 277h1v1h-1zM292 277h1v1h-1zM279 279h1v1h-1zM297 285h1v1h-1zM285 278h1v1h-1zM286 281h1v1h-1zM277 282h1v1h-1zM297 280h1v1h-1zM286 283h1v1h-1zM281 281h1v1h-1zM290 277h1v1h-1zM292 279h1v1h-1zM285 277h1v1h-1zM297 281h1v1h-1zM300 282h1v1h-1zM294 278h1v1h-1zM288 278h1v1h-1zM285 285h1v1h-1zM299 285h1v1h-1zM292 287h1v1h-1zM298 279h1v1h-1zM290 283h1v1h-1zM293 281h1v1h-1zM288 285h1v1h-1zM283 276h1v1h-1zM294 285h1v1h-1zM287 276h1v1h-1zM296 283h1v1h-1zM284 283h1v1h-1zM292 284h1v1h-1zM300 277h1v1h-1zM292 275h1v1h-1zM296 287h1v1h-1zM284 284h1v1h-1zM286 279h1v1h-1zM289 274h1v1h-1zM291 282h1v1h-1zM295 281h1v1h-1zM300 283h1v1h-1zM290 274h1v1h-1zM286 285h1v1h-1zM288 275h1v1h-1zM281 274h1v1h-1zM298 278h1v1h-1zM290 284h1v1h-1zM287 272h1v1h-1zM279 275h1v1h-1zM292 278h1v1h-1zM301 278h1v1h-1zM298 280h1v1h-1zM282 271h1v1h-1zM297 279h1v1h-1zM293 281h1v1h-1zM303 280h1v1h-1zM292 281h1v1h-1zM283 286h1v1h-1zM298 281h1v1h-1zM296 282h1v1h-1zM298 287h1v1h-1zM291 283h1v1h-1zM285 272h1v1h-1zM285 286h1v1h-1zM288 270h1v1h-1zM286 284h1v1h-1zM286 273h1v1h-1zM291 281h1v1h-1zM288 285h1v1h-1zM282 279h1v1h-1zM287 279h1v1h-1zM291 280h1v1h-1zM302 277h1v1h-1zM288 288h1v1h-1zM288 275h1v1h-1zM291 282h1v1h-1zM284 274h1v1h-1zM299 276h1v1h-1zM295 281h1v1h-1zM292 280h1v1h-1zM285 284h1v1h-1zM289 275h1v1h-1zM293 280h1v1h-1zM282 280h1v1h-1zM301 280h1v1h-1zM289 280h1v1h-1zM295 285h1v1h-1zM279 282h1v1h-1zM293 284h1v1h-1zM298 281h1v1h-1zM287 290h1v1h-1zM280 273h1v1h-1zM292 275h1v1h-1zM291 276h1v1h-1zM301 277h1v1h-1zM291 281h1v1h-1zM288 269h1v1h-1zM299 282h1v1h-1zM291 286h1v1h-1zM292 284h1v1h-1zM285 279h1v1h-1zM289 284h1v1h-1zM290 281h1v1h-1zM287 277h1v1h-1zM285 278h1v1h-1zM295 279h1v1h-1zM287 290h1v1h-1zM287 274h1v1h-1zM292 280h1v1h-1zM287 287h1v1h-1zM292 272h1v1h-1zM291 281h1v1h-1zM291 273h1v1h-1zM280 274h1v1h-1zM284 281h1v1h-1zM285 282h1v1h-1zM285 280h1v1h-1zM286 276h1v1h-1zM291 276h1v1h-1zM289 284h1v1h-1zM287 285h1v1h-1zM293 275h1v1h-1zM279 277h1v1h-1zM296 283h1v1h-1zM293 280h1v1h-1zM289 285h1v1h-1zM295 271h1v1h-1zM285 275h1v1h-1zM295 285h1v1h-1zM285 281h1v1h-1zM293 276h1v1h-1zM293 276h1v1h-1zM296 279h1v1h-1zM295 285h1v1h-1zM296 275h1v1h-1zM292 292h1v1h-1zM293 274h1v1h-1zM296 274h1v1h-1zM294 284h1v1h-1zM290 273h1v1h-1zM284 277h1v1h-1zM299 279h1v1h-1zM295 275h1v1h-1zM297 280h1v1h-1zM286 278h1v1h-1zM285 280h1v1h-1zM284 278h1v1h-1zM295 284h1v1h-1zM287 282h1v1h-1zM299 277h1v1h-1zM295 280h1v1h-1zM304 275h1v1h-1zM289 282h1v1h-1zM292 278h1v1h-1zM296 275h1v1h-1zM285 287h1v1h-1zM294 283h1v1h-1zM290 279h1v1h-1zM293 280h1v1h-1zM287 285h1v1h-1zM297 284h1v1h-1zM299 281h1v1h-1zM287 285h1v1h-1zM301 276h1v1h-1zM287 273h1v1h-1zM300 282h1v1h-1zM292 283h1v1h-1zM283 280h1v1h-1zM289 285h1v1h-1zM296 280h1v1h-1zM296 276h1v1h-1zM294 268h1v1h-1zM292 283h1v1h-1zM295 286h1v1h-1zM296 279h1v1h-1zM280 276h1v1h-1zM288 282h1v1h-1zM279 270h1v1h-1zM295 276h1v1h-1zM295 279h1v1h-1zM279 281h1v1h-1zM286 273h1v1h-1zM294 283h1v1h-1zM293 281h1v1h-1zM287 277h1v1h-1zM289 279h1v1h-1zM297 278h1v1h-1zM284 273h1v1h-1zM293 288h1v1h-1zM290 272h1v1h-1zM299 282h1v1h-1zM291 284h1v1h-1zM290 278h1v1h-1zM285 288h1v1h-1zM289 280h1v1h-1zM287 288h1v1h-1zM284 281h1v1h-1zM296 279h1v1h-1zM293 283h1v1h-1zM287 282h1v1h-1zM289 278h1v1h-1zM298 275h1v1h-1zM297 275h1v1h-1zM295 275h1v1h-1zM274 279h1v1h-1zM292 281h1v1h-1zM281 283h1v1h-1zM289 285h1v1h-1zM294 279h1v1h-1zM294 277h1v1h-1zM293 294h1v1h-1zM283 273h1v1h-1zM286 275h1v1h-1zM293 284h1v1h-1zM282 278h1v1h-1zM303 288h1v1h-1zM296 276h1v1h-1zM290 276h1v1h-1zM278 278h1v1h-1zM283 281h1v1h-1zM292 277h1v1h-1zM295 289h1v1h-1zM292 280h1v1h-1zM292 281h1v1h-1zM286 276h1v1h-1zM295 279h1v1h-1zM284 285h1v1h-1zM298 279h1v1h-1zM295 278h1v1h-1zM290 273h1v1h-1zM293 272h1v1h-1zM295 276h1v1h-1zM292 272h1v1h-1zM287 282h1v1h-1zM280 284h1v1h-1zM291 282h1v1h-1zM287 276h1v1h-1zM282 273h1v1h-1zM286 279h1v1h-1zM302 274h1v1h-1zM288 273h1v1h-1zM278 277h1v1h-1zM288 282h1v1h-1zM304 278h1v1h-1zM290 279h1v1h-1zM294 278h1v1h-1zM284 279h1v1h-1zM291 283h1v1h-1zM295 271h1v1h-1zM295 284h1v1h-1zM293 281h1v1h-1zM286 283h1v1h-1zM285 290h1v1h-1zM289 286h1v1h-1zM298 276h1v1h-1zM288 272h1v1h-1zM300 279h1v1h-1zM295 276h1v1h-1zM285 283h1v1h-1zM283 284h1v1h-1zM286 278h1v1h-1zM294 276h1v1h-1zM297 282h1v1h-1zM285 276h1v1h-1zM294 283h1v1h-1zM283 276h1v1h-1zM280 276h1v1h-1zM286 280h1v1h-1zM288 275h1v1h-1zM286 275h1v1h-1zM288 279h1v1h-1zM287 289h1v1h-1zM298 279h1v1h-1zM287 285h1v1h-1zM289 279h1v1h-1zM289 279h1v1h-1zM299 279h1v1h-1zM287 289h1v1h-1zM285 278h1v1h-1zM285 285h1v1h-1zM287 281h1v1h-1zM296 276h1v1h-1zM294 287h1v1h-1zM276 276h1v1h-1zM295 268h1v1h-1zM288 273h1v1h-1zM284 278h1v1h-1zM289 281h1v1h-1zM293 286h1v1h-1zM287 280h1v1h-1zM285 273h1v1h-1zM291 276h1v1h-1zM293 276h1v1h-1zM286 284h1v1h-1zM296 278h1v1h-1zM301 277h1v1h-1zM291 274h1v1h-1zM287 278h1v1h-1zM293 279h1v1h-1zM292 277h1v1h-1zM284 280h1v1h-1zM298 293h1v1h-1zM290 280h1v1h-1zM286 284h1v1h-1zM291 273h1v1h-1zM294 280h1v1h-1zM296 281h1v1h-1zM287 275h1v1h-1zM304 285h1v1h-1zM296 288h1v1h-1zM297 280h1v1h-1zM283 282h1v1h-1zM287 277h1v1h-1zM299 280h1v1h-1zM290 278h1v1h-1zM297 284h1v1h-1zM296 280h1v1h-1zM287 281h1v1h-1zM299 278h1v1h-1zM292 274h1v1h-1zM299 279h1v1h-1zM288 275h1v1h-1zM299 280h1v1h-1zM290 278h1v1h-1zM301 283h1v1h-1zM285 282h1v1h-1zM300 280h1v1h-1zM282 281h1v1h-1zM296 284h1v1h-1zM299 279h1v1h-1zM276 278h1v1h-1zM290 274h1v1h-1zM286 279h1v1h-1zM286 273h1v1h-1zM293 282h1v1h-1zM294 287h1v1h-1zM297 286h1v1h-1zM301 280h1v1h-1zM302 276h1v1h-1zM292 280h1v1h-1zM303 272h1v1h-1zM291 268h1v1h-1zM283 278h1v1h-1zM292 280h1v1h-1zM294 282h1v1h-1zM279 287h1v1h-1zM300 274h1v1h-1zM298 280h1v1h-1zM295 276h1v1h-1zM293 277h1v1h-1zM295 282h1v1h-1zM295 282h1v1h-1zM291 271h1v1h-1zM290 272h1v1h-1zM300 281h1v1h-1zM293 286h1v1h-1zM291 287h1v1h-1zM302 278h1v1h-1zM298 279h1v1h-1zM298 272h1v1h-1zM295 282h1v1h-1zM287 282h1v1h-1zM299 280h1v1h-1zM286 290h1v1h-1zM299 283h1v1h-1zM283 279h1v1h-1zM294 280h1v1h-1zM293 282h1v1h-1zM292 282h1v1h-1zM281 276h1v1h-1zM284 283h1v1h-1zM295 281h1v1h-1zM301 287h1v1h-1zM297 291h1v1h-1zM286 276h1v1h-1zM289 276h1v1h-1zM291 283h1v1h-1zM293 278h1v1h-1zM286 280h1v1h-1zM295 276h1v1h-1zM303 282h1v1h-1zM301 288h1v1h-1zM288 286h1v1h-1zM295 272h1v1h-1zM289 287h1v1h-1zM288 274h1v1h-1zM287 280h1v1h-1zM291 282h1v1h-1zM292 271h1v1h-1zM287 280h1v1h-1zM285 279h1v1h-1zM289 273h1v1h-1zM290 276h1v1h-1zM280 278h1v1h-1zM294 280h1v1h-1zM285 282h1v1h-1zM290 279h1v1h-1zM291 278h1v1h-1zM273 279h1v1h-1zM287 278h1v1h-1zM288 286h1v1h-1zM284 279h1v1h-1zM284 276h1v1h-1zM303 282h1v1h-1zM287 281h1v1h-1zM286 274h1v1h-1zM285 261h1v1h-1zM293 273h1v1h-1zM303 279h1v1h-1zM285 281h1v1h-1zM284 279h1v1h-1zM296 286h1v1h-1zM295 277h1v1h-1zM282 288h1v1h-1zM288 287h1v1h-1zM288 284h1v1h-1zM293 281h1v1h-1zM296 281h1v1h-1zM289 286h1v1h-1zM290 280h1v1h-1zM289 279h1v1h-1zM294 274h1v1h-1zM289 280h1v1h-1zM286 277h1v1h-1zM284 281h1v1h-1zM296 279h1v1h-1zM297 282h1v1h-1zM295 275h1v1h-1zM284 275h1v1h-1zM287 274h1v1h-1z" fill="#000" fill-opacity="0.8"/>
<path d="M295 292h1v1h-1zM301 313h1v1h-1zM273 283h1v1h-1zM281 283h1v1h-1zM290 282h1v1h-1zM279 284h1v1h-1zM299 289h1v1h-1zM278 273h1v1h-1zM276 277h1v1h-1zM286 287h1v1h-1zM296 294h1v1h-1zM271 288h1v1h-1zM259 280h1v1h-1zM278 290h1v1h-1zM281 285h1v1h-1zM302 302h1v1h-1zM277 296h1v1h-1zM297 293h1v1h-1zM298 297h1v1h-1zM299 298h1v1h-1zM289 298h1v1h-1zM280 290h1v1h-1zM264 303h1v1h-1zM294 294h1v1h-1zM287 274h1v1h-1zM281 289h1v1h-1zM261 291h1v1h-1zM279 277h1v1h-1zM292 271h1v1h-1zM277 299h1v1h-1zM285 296h1v1h-1zM290 281h1v1h-1zM273 287h1v1h-1zM287 291h1v1h-1zM297 287h1v1h-1zM284 286h1v1h-1zM302 286h1v1h-1zM289 293h1v1h-1zM296 292h1v1h-1zM276 292h1v1h-1zM283 285h1v1h-1zM278 300h1v1h-1zM282 286h1v1h-1zM286 278h1v1h-1zM289 292h1v1h-1zM302 295h1v1h-1zM294 287h1v1h-1zM298 288h1v1h-1zM276 290h1v1h-1zM281 294h1v1h-1zM289 292h1v1h-1zM277 280h1v1h-1zM277 282h1v1h-1zM308 293h1v1h-1zM278 289h1v1h-1zM304 292h1v1h-1zM284 274h1v1h-1zM284 287h1v1h-1zM274 293h1v1h-1zM297 297h1v1h-1zM273 276h1v1h-1zM282 267h1v1h-1zM274 295h1v1h-1zM261 277h1v1h-1zM285 292h1v1h-1zM294 289h1v1h-1zM264 291h1v1h-1zM281 297h1v1h-1zM292 293h1v1h-1zM280 268h1v1h-1zM282 281h1v1h-1zM267 278h1v1h-1zM284 290h1v1h-1zM290 275h1v1h-1zM303 289h1v1h-1zM288 280h1v1h-1zM283 286h1v1h-1zM285 306h1v1h-1zM285 286h1v1h-1zM289 276h1v1h-1zM278 283h1v1h-1zM282 291h1v1h-1zM271 281h1v1h-1zM294 286h1v1h-1zM282 284h1v1h-1zM283 283h1v1h-1zM278 294h1v1h-1zM280 287h1v1h-1zM293 286h1v1h-1zM295 283h1v1h-1zM279 298h1v1h-1zM283 277h1v1h-1zM269 282h1v1h-1zM298 300h1v1h-1zM282 305h1v1h-1zM279 291h1v1h-1zM265 282h1v1h-1zM287 283h1v1h-1zM299 307h1v1h-1zM264 282h1v1h-1zM279 279h1v1h-1zM284 281h1v1h-1zM282 292h1v1h-1zM274 274h1v1h-1zM289 284h1v1h-1zM261 274h1v1h-1zM283 302h1v1h-1zM277 279h1v1h-1zM291 285h1v1h-1zM276 298h1v1h-1zM297 279h1v1h-1zM277 286h1v1h-1zM287 281h1v1h-1zM287 289h1v1h-1zM280 291h1v1h-1zM283 287h1v1h-1zM283 289h1v1h-1zM276 273h1v1h-1zM278 291h1v1h-1zM280 289h1v1h-1zM286 289h1v1h-1zM276 286h1v1h-1zM284 312h1v1h-1zM290 278h1v1h-1zM293 289h1v1h-1zM290 300h1v1h-1zM291 287h1v1h-1zM281 289h1v1h-1zM290 288h1v1h-1zM285 299h1v1h-1zM259 277h1v1h-1zM277 285h1v1h-1zM274 287h1v1h-1zM290 308h1v1h-1zM288 293h1v1h-1zM274 277h1v1h-1zM282 284h1v1h-1zM286 298h1v1h-1zM284 288h1v1h-1zM287 311h1v1h-1zM282 308h1v1h-1zM261 294h1v1h-1zM286 274h1v1h-1zM295 290h1v1h-1zM273 288h1v1h-1zM270 281h1v1h-1zM291 305h1v1h-1zM306 296h1v1h-1zM278 295h1v1h-1zM281 297h1v1h-1zM294 297h1v1h-1zM289 297h1v1h-1zM285 287h1v1h-1zM288 292h1v1h-1zM260 296h1v1h-1zM300 292h1v1h-1zM276 304h1v1h-1zM291 302h1v1h-1zM285 290h1v1h-1zM275 290h1v1h-1zM285 275h1v1h-1zM300 283h1v1h-1zM287 295h1v1h-1zM286 293h1v1h-1zM282 282h1v1h-1zM295 288h1v1h-1zM288 302h1v1h-1zM290 278h1v1h-1zM283 276h1v1h-1zM289 299h1v1h-1zM276 291h1v1h-1zM294 278h1v1h-1zM281 294h1v1h-1zM267 295h1v1h-1zM264 278h1v1h-1zM264 285h1v1h-1zM286 299h1v1h-1zM277 291h1v1h-1zM290 303h1v1h-1zM277 285h1v1h-1zM293 287h1v1h-1zM278 286h1v1h-1zM305 297h1v1h-1zM293 295h1v1h-1zM284 300h1v1h-1zM281 296h1v1h-1zM285 275h1v1h-1zM305 293h1v1h-1zM273 282h1v1h-1zM298 286h1v1h-1zM259 289h1v1h-1zM279 304h1v1h-1zM280 303h1v1h-1zM285 289h1v1h-1zM296 277h1v1h-1zM277 280h1v1h-1zM289 294h1v1h-1zM278 290h1v1h-1zM310 283h1v1h-1zM290 292h1v1h-1zM268 280h1v1h-1zM283 294h1v1h-1zM281 290h1v1h-1zM277 279h1v1h-1zM282 283h1v1h-1zM300 283h1v1h-1zM273 299h1v1h-1zM281 296h1v1h-1zM291 306h1v1h-1zM284 283h1v1h-1zM292 283h1v1h-1zM268 307h1v1h-1zM290 292h1v1h-1zM286 284h1v1h-1zM286 293h1v1h-1zM280 278h1v1h-1zM303 286h1v1h-1zM267 306h1v1h-1zM301 301h1v1h-1zM272 300h1v1h-1zM302 297h1v1h-1zM282 283h1v1h-1zM293 288h1v1h-1zM260 273h1v1h-1zM283 296h1v1h-1zM274 296h1v1h-1zM269 283h1v1h-1zM279 290h1v1h-1zM277 283h1v1h-1zM294 288h1v1h-1zM286 287h1v1h-1zM296 302h1v1h-1zM267 292h1v1h-1zM290 291h1v1h-1zM286 294h1v1h-1zM287 280h1v1h-1zM287 306h1v1h-1zM268 293h1v1h-1zM273 277h1v1h-1zM279 287h1v1h-1zM282 277h1v1h-1zM286 293h1v1h-1zM280 288h1v1h-1zM265 293h1v1h-1zM274 283h1v1h-1zM281 299h1v1h-1zM283 297h1v1h-1zM268 289h1v1h-1zM287 293h1v1h-1zM286 291h1v1h-1zM309 303h1v1h-1zM285 285h1v1h-1zM282 282h1v1h-1zM276 292h1v1h-1zM296 280h1v1h-1zM289 278h1v1h-1zM285 293h1v1h-1zM294 282h1v1h-1zM287 298h1v1h-1zM274 294h1v1h-1zM277 267h1v1h-1zM290 281h1v1h-1zM266 290h1v1h-1zM287 284h1v1h-1zM271 308h1v1h-1zM295 288h1v1h-1zM268 284h1v1h-1zM279 263h1v1h-1zM266 288h1v1h-1zM298 287h1v1h-1zM267 275h1v1h-1zM267 303h1v1h-1zM288 291h1v1h-1zM276 289h1v1h-1zM280 296h1v1h-1zM267 298h1v1h-1zM283 294h1v1h-1zM294 295h1v1h-1zM265 293h1v1h-1zM289 291h1v1h-1z" fill="#000" fill-opacity="0.62"/>
<path d="M298 275h1v1h-1zM272 297h1v1h-1zM266 291h1v1h-1zM290 291h1v1h-1zM248 290h1v1h-1zM284 287h1v1h-1zM274 277h1v1h-1zM285 283h1v1h-1zM306 315h1v1h-1zM264 293h1v1h-1zM314 305h1v1h-1zM308 314h1v1h-1zM303 314h1v1h-1zM282 288h1v1h-1zM285 296h1v1h-1zM286 276h1v1h-1zM249 299h1v1h-1zM253 303h1v1h-1zM283 285h1v1h-1zM309 297h1v1h-1zM291 290h1v1h-1zM286 286h1v1h-1zM293 303h1v1h-1zM279 279h1v1h-1zM271 293h1v1h-1zM270 286h1v1h-1zM252 286h1v1h-1zM268 287h1v1h-1zM280 294h1v1h-1zM290 281h1v1h-1zM260 301h1v1h-1zM249 286h1v1h-1zM302 294h1v1h-1zM300 279h1v1h-1zM292 306h1v1h-1zM289 302h1v1h-1zM290 307h1v1h-1zM242 291h1v1h-1zM253 290h1v1h-1zM258 293h1v1h-1zM284 288h1v1h-1zM259 312h1v1h-1zM278 314h1v1h-1zM306 274h1v1h-1zM277 294h1v1h-1zM266 289h1v1h-1zM280 311h1v1h-1zM287 282h1v1h-1zM292 283h1v1h-1zM274 299h1v1h-1zM289 308h1v1h-1zM258 296h1v1h-1zM262 275h1v1h-1zM273 294h1v1h-1zM292 295h1v1h-1zM293 303h1v1h-1zM281 302h1v1h-1zM305 286h1v1h-1zM273 301h1v1h-1zM270 289h1v1h-1zM289 284h1v1h-1zM293 287h1v1h-1zM267 287h1v1h-1zM294 314h1v1h-1zM275 306h1v1h-1zM270 282h1v1h-1zM252 276h1v1h-1zM273 302h1v1h-1zM279 270h1v1h-1zM315 308h1v1h-1zM285 292h1v1h-1zM309 294h1v1h-1zM286 294h1v1h-1zM301 334h1v1h-1zM253 297h1v1h-1zM324 319h1v1h-1zM277 283h1v1h-1zM299 283h1v1h-1zM252 277h1v1h-1zM312 305h1v1h-1zM266 301h1v1h-1zM248 271h1v1h-1zM297 311h1v1h-1zM262 283h1v1h-1zM317 277h1v1h-1zM254 294h1v1h-1zM251 288h1v1h-1zM273 318h1v1h-1zM255 291h1v1h-1zM246 300h1v1h-1z" fill="#000" fill-opacity="0.62"/>
<path d="M317 252h1v1h-1zM322 246h1v1h-1zM318 252h1v1h-1zM311 252h1v1h-1zM321 247h1v1h-1zM329 240h1v1h-1zM328 248h1v1h-1zM331 240h1v1h-1zM308 254h1v1h-1zM316 254h1v1h-1zM339 225h1v1h-1zM323 249h1v1h-1zM344 216h1v1h-1zM346 222h1v1h-1zM320 248h1v1h-1zM317 251h1v1h-1zM311 255h1v1h-1zM333 242h1v1h-1zM332 236h1v1h-1zM320 252h1v1h-1zM343 214h1v1h-1zM311 254h1v1h-1zM337 230h1v1h-1zM342 215h1v1h-1zM332 240h1v1h-1zM322 251h1v1h-1zM340 229h1v1h-1zM316 254h1v1h-1zM327 241h1v1h-1zM318 255h1v1h-1zM315 257h1v1h-1zM327 237h1v1h-1zM346 220h1v1h-1zM312 256h1v1h-1zM319 255h1v1h-1zM331 228h1v1h-1zM314 255h1v1h-1zM341 225h1v1h-1zM317 247h1v1h-1zM344 225h1v1h-1zM312 258h1v1h-1zM315 255h1v1h-1zM345 230h1v1h-1zM352 224h1v1h-1zM316 251h1v1h-1zM343 226h1v1h-1zM347 221h1v1h-1zM311 256h1v1h-1zM312 252h1v1h-1zM321 250h1v1h-1zM323 243h1v1h-1zM314 258h1v1h-1zM345 223h1v1h-1zM312 257h1v1h-1zM346 219h1v1h-1zM313 254h1v1h-1zM333 233h1v1h-1zM311 256h1v1h-1zM321 250h1v1h-1zM320 246h1v1h-1zM330 236h1v1h-1zM339 231h1v1h-1zM312 258h1v1h-1zM319 242h1v1h-1zM344 232h1v1h-1zM340 224h1v1h-1zM347 220h1v1h-1zM318 252h1v1h-1zM316 249h1v1h-1zM311 256h1v1h-1zM323 241h1v1h-1zM337 237h1v1h-1zM338 221h1v1h-1zM338 228h1v1h-1zM311 256h1v1h-1z" fill="#000" fill-opacity="0.62"/>
<path d="M308 270h1v1h-1zM306 262h1v1h-1zM316 282h1v1h-1zM299 285h1v1h-1zM308 267h1v1h-1zM312 278h1v1h-1zM303 274h1v1h-1zM302 285h1v1h-1zM315 270h1v1h-1zM309 286h1v1h-1zM329 272h1v1h-1zM302 291h1v1h-1zM304 276h1v1h-1zM316 255h1v1h-1zM302 281h1v1h-1zM304 260h1v1h-1zM300 281h1v1h-1zM308 279h1v1h-1zM305 273h1v1h-1zM308 256h1v1h-1zM306 280h1v1h-1zM311 265h1v1h-1zM323 283h1v1h-1zM319 267h1v1h-1zM310 271h1v1h-1zM307 283h1v1h-1zM309 278h1v1h-1zM313 278h1v1h-1zM312 278h1v1h-1zM304 278h1v1h-1zM312 296h1v1h-1zM308 268h1v1h-1zM311 278h1v1h-1zM307 277h1v1h-1zM305 274h1v1h-1zM314 284h1v1h-1zM315 282h1v1h-1zM314 266h1v1h-1zM314 271h1v1h-1zM313 274h1v1h-1zM305 262h1v1h-1zM307 262h1v1h-1zM303 283h1v1h-1zM307 266h1v1h-1zM311 271h1v1h-1zM303 279h1v1h-1zM308 269h1v1h-1zM305 267h1v1h-1zM311 264h1v1h-1zM318 271h1v1h-1z" fill="#000" fill-opacity="0.62"/>
<polygon points="316.5,256.5 297,265 277.5,274.5 281,279 289,283.5 297.5,288 301.5,286 302.5,267 308,261" fill="#000" filter="url(#bl05)"/>
</g>
<line x1="301.40" y1="173.60" x2="301.40" y2="318.10" stroke="#6a2a2a" stroke-width="1.1"/>
<line x1="225.50" y1="266.70" x2="376.80" y2="266.70" stroke="#6a2a2a" stroke-width="1.1"/>
<path d="M225.50 318.10v5.0 M234.61 318.10v4.2 M239.94 318.10v4.2 M243.72 318.10v4.2 M246.65 318.10v4.2 M249.05 318.10v4.2 M251.07 318.10v4.2 M252.83 318.10v4.2 M254.38 318.10v4.2 M255.76 318.10v5.0 M264.87 318.10v4.2 M270.20 318.10v4.2 M273.98 318.10v4.2 M276.91 318.10v4.2 M279.31 318.10v4.2 M281.33 318.10v4.2 M283.09 318.10v4.2 M284.64 318.10v4.2 M286.02 318.10v5.0 M295.13 318.10v4.2 M300.46 318.10v4.2 M304.24 318.10v4.2 M307.17 318.10v4.2 M309.57 318.10v4.2 M311.59 318.10v4.2 M313.35 318.10v4.2 M314.90 318.10v4.2 M316.28 318.10v5.0 M325.39 318.10v4.2 M330.72 318.10v4.2 M334.50 318.10v4.2 M337.43 318.10v4.2 M339.83 318.10v4.2 M341.85 318.10v4.2 M343.61 318.10v4.2 M345.16 318.10v4.2 M346.54 318.10v5.0 M355.65 318.10v4.2 M360.98 318.10v4.2 M364.76 318.10v4.2 M367.69 318.10v4.2 M370.09 318.10v4.2 M372.11 318.10v4.2 M373.87 318.10v4.2 M375.42 318.10v4.2 M376.80 318.10v5.0 M225.50 310.70h-4.4 M225.50 305.79h-4.4 M225.50 302.30h-4.4 M225.50 299.60h-4.4 M225.50 297.39h-4.4 M225.50 295.52h-4.4 M225.50 293.90h-4.4 M225.50 292.48h-4.4 M225.50 291.20h-5.0 M225.50 282.80h-4.4 M225.50 277.89h-4.4 M225.50 274.40h-4.4 M225.50 271.70h-4.4 M225.50 269.49h-4.4 M225.50 267.62h-4.4 M225.50 266.00h-4.4 M225.50 264.58h-4.4 M225.50 263.30h-5.0 M225.50 254.90h-4.4 M225.50 249.99h-4.4 M225.50 246.50h-4.4 M225.50 243.80h-4.4 M225.50 241.59h-4.4 M225.50 239.72h-4.4 M225.50 238.10h-4.4 M225.50 236.68h-4.4 M225.50 235.40h-5.0 M225.50 227.00h-4.4 M225.50 222.09h-4.4 M225.50 218.60h-4.4 M225.50 215.90h-4.4 M225.50 213.69h-4.4 M225.50 211.82h-4.4 M225.50 210.20h-4.4 M225.50 208.78h-4.4 M225.50 207.50h-5.0 M225.50 199.10h-4.4 M225.50 194.19h-4.4 M225.50 190.70h-4.4 M225.50 188.00h-4.4 M225.50 185.79h-4.4 M225.50 183.92h-4.4 M225.50 182.30h-4.4 M225.50 180.88h-4.4 M225.50 179.60h-5.0 M225.50 173.60h-5" stroke="#2a6688" stroke-width="1" fill="none"/>
<rect x="225.5" y="173.6" width="151.3" height="144.50000000000003" fill="none" stroke="#2f6496" stroke-width="1.4"/>
<text x="227.80" y="332.90" font-size="4.8" fill="#1a3a9c" font-weight="bold" text-anchor="end" stroke="#1a3a9c" stroke-width="0.14">10</text>
<text x="228.10" y="329.00" font-size="4.9" fill="#1a3a9c" font-weight="bold" stroke="#1a3a9c" stroke-width="0.14">1</text>
<text x="255.10" y="332.90" font-size="4.8" fill="#1a3a9c" font-weight="bold" text-anchor="end" stroke="#1a3a9c" stroke-width="0.14">10</text>
<text x="255.40" y="329.00" font-size="4.9" fill="#1a3a9c" font-weight="bold" stroke="#1a3a9c" stroke-width="0.14">2</text>
<text x="283.70" y="332.90" font-size="4.8" fill="#1a3a9c" font-weight="bold" text-anchor="end" stroke="#1a3a9c" stroke-width="0.14">10</text>
<text x="284.00" y="329.00" font-size="4.9" fill="#1a3a9c" font-weight="bold" stroke="#1a3a9c" stroke-width="0.14">3</text>
<text x="316.00" y="332.90" font-size="4.8" fill="#1a3a9c" font-weight="bold" text-anchor="end" stroke="#1a3a9c" stroke-width="0.14">10</text>
<text x="316.30" y="329.00" font-size="4.9" fill="#1a3a9c" font-weight="bold" stroke="#1a3a9c" stroke-width="0.14">4</text>
<text x="343.10" y="332.90" font-size="4.8" fill="#1a3a9c" font-weight="bold" text-anchor="end" stroke="#1a3a9c" stroke-width="0.14">10</text>
<text x="343.40" y="329.00" font-size="4.9" fill="#1a3a9c" font-weight="bold" stroke="#1a3a9c" stroke-width="0.14">5</text>
<text x="373.70" y="332.90" font-size="4.8" fill="#1a3a9c" font-weight="bold" text-anchor="end" stroke="#1a3a9c" stroke-width="0.14">10</text>
<text x="374.00" y="329.00" font-size="4.9" fill="#1a3a9c" font-weight="bold" stroke="#1a3a9c" stroke-width="0.14">6</text>
<text x="216.40" y="316.60" font-size="4.7" fill="#1a3a9c" font-weight="bold" text-anchor="end" transform="rotate(-90 216.40 316.60)" stroke="#1a3a9c" stroke-width="0.14">10</text>
<text x="212.30" y="316.20" font-size="4.7" fill="#1a3a9c" font-weight="bold" transform="rotate(-90 212.30 316.20)" stroke="#1a3a9c" stroke-width="0.14">1</text>
<text x="216.40" y="291.60" font-size="4.7" fill="#1a3a9c" font-weight="bold" text-anchor="end" transform="rotate(-90 216.40 291.60)" stroke="#1a3a9c" stroke-width="0.14">10</text>
<text x="212.30" y="291.20" font-size="4.7" fill="#1a3a9c" font-weight="bold" transform="rotate(-90 212.30 291.20)" stroke="#1a3a9c" stroke-width="0.14">2</text>
<text x="216.40" y="264.30" font-size="4.7" fill="#1a3a9c" font-weight="bold" text-anchor="end" transform="rotate(-90 216.40 264.30)" stroke="#1a3a9c" stroke-width="0.14">10</text>
<text x="212.30" y="263.90" font-size="4.7" fill="#1a3a9c" font-weight="bold" transform="rotate(-90 212.30 263.90)" stroke="#1a3a9c" stroke-width="0.14">3</text>
<text x="216.40" y="237.00" font-size="4.7" fill="#1a3a9c" font-weight="bold" text-anchor="end" transform="rotate(-90 216.40 237.00)" stroke="#1a3a9c" stroke-width="0.14">10</text>
<text x="212.30" y="236.60" font-size="4.7" fill="#1a3a9c" font-weight="bold" transform="rotate(-90 212.30 236.60)" stroke="#1a3a9c" stroke-width="0.14">4</text>
<text x="216.40" y="209.90" font-size="4.7" fill="#1a3a9c" font-weight="bold" text-anchor="end" transform="rotate(-90 216.40 209.90)" stroke="#1a3a9c" stroke-width="0.14">10</text>
<text x="212.30" y="209.50" font-size="4.7" fill="#1a3a9c" font-weight="bold" transform="rotate(-90 212.30 209.50)" stroke="#1a3a9c" stroke-width="0.14">5</text>
<text x="216.40" y="177.00" font-size="4.7" fill="#1a3a9c" font-weight="bold" text-anchor="end" transform="rotate(-90 216.40 177.00)" stroke="#1a3a9c" stroke-width="0.14">10</text>
<text x="212.30" y="176.60" font-size="4.7" fill="#1a3a9c" font-weight="bold" transform="rotate(-90 212.30 176.60)" stroke="#1a3a9c" stroke-width="0.14">6.3</text>
<text x="227.10" y="180.20" font-size="6.15" fill="#e8202a" font-weight="bold" stroke="#e8202a" stroke-width="0.14">UL 4.13 ± 0.21</text>
<text x="374.40" y="180.20" font-size="6.15" fill="#e8202a" font-weight="bold" text-anchor="end" stroke="#e8202a" stroke-width="0.14">UR 27.2 ± 0.35</text>
<text x="227.10" y="315.70" font-size="6.15" fill="#e8202a" font-weight="bold" stroke="#e8202a" stroke-width="0.14">LL 55.6 ± 0.46</text>
<text x="374.40" y="315.70" font-size="6.15" fill="#e8202a" font-weight="bold" text-anchor="end" stroke="#e8202a" stroke-width="0.14">LR 13.1 ± 0.36</text>
<text x="308.10" y="168.30" font-size="7.45" fill="#111" font-weight="bold" text-anchor="middle" stroke="#111" stroke-width="0.14">Ag-NPs-treated group</text>
<text x="203.60" y="166.60" font-size="12.5" fill="#000" font-weight="bold">g</text>
<text x="248.70" y="340.10" font-size="6.45" fill="#111" font-weight="bold" stroke="#111" stroke-width="0.14">Annexin-FITC-H</text>
<text x="370.00" y="339.40" font-size="6.2" fill="#e8202a" font-weight="bold" text-anchor="end" stroke="#e8202a" stroke-width="0.14">(UR + LR = 40.27 ± 0.31)</text>
<text x="208.50" y="248.30" font-size="6.2" fill="#111" font-weight="bold" text-anchor="middle" transform="rotate(-90 208.50 248.30)" stroke="#111" stroke-width="0.14">PI-PE-H</text>
</svg></div></body></html>
